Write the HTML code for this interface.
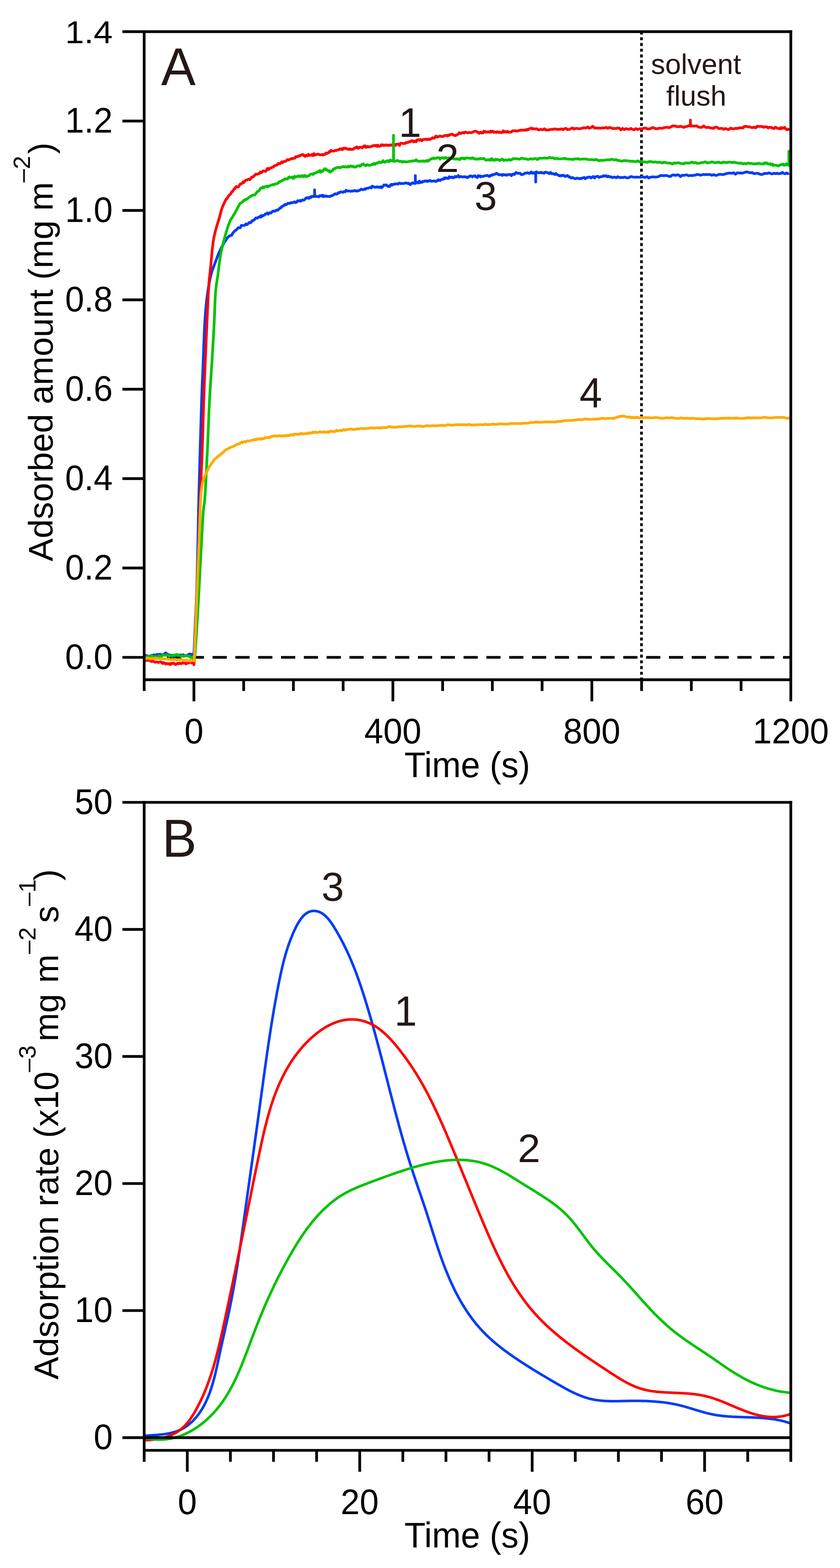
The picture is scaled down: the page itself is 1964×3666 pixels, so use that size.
<!DOCTYPE html>
<html><head><meta charset="utf-8"><title>Adsorption kinetics</title><style>html,body{margin:0;padding:0;background:#fff;}svg{display:block;}</style></head><body>
<svg width="1964" height="3666" viewBox="0 0 1964 3666">
<rect width="1964" height="3666" fill="#fff"/>
<line x1="336.95" y1="1536.90" x2="1849.00" y2="1536.90" stroke="#000" stroke-width="6.3" stroke-dasharray="33.2 20.15"/>
<line x1="1499.80" y1="73.80" x2="1499.80" y2="1589.30" stroke="#000" stroke-width="6.2" stroke-dasharray="6.9 6.465"/>
<g fill="none" stroke-width="6.3" stroke-linejoin="round" stroke-linecap="butt">
<path stroke="#003cf8" d="M337.1,1534.7 L339.2,1533.7 L341.8,1532.4 L344.9,1534.1 L346.6,1534.5 L348.3,1534.6 L350.2,1534.0 L352.1,1534.0 L354.0,1531.9 L356.1,1531.8 L358.1,1531.7 L360.2,1530.8 L362.2,1532.2 L364.3,1531.8 L366.4,1530.4 L368.5,1529.9 L370.5,1531.9 L372.5,1530.1 L374.5,1529.6 L376.4,1530.8 L378.2,1531.1 L380.0,1530.4 L381.7,1530.3 L383.5,1530.8 L385.2,1527.7 L387.0,1526.4 L388.7,1527.8 L390.4,1529.5 L392.2,1529.5 L393.9,1531.5 L395.7,1531.4 L397.4,1531.5 L399.1,1532.7 L400.8,1531.5 L402.5,1535.5 L404.2,1534.4 L405.9,1535.1 L407.5,1533.4 L409.2,1533.2 L410.8,1532.3 L414.0,1532.7 L417.0,1531.5 L420.0,1531.8 L422.9,1531.2 L425.8,1532.4 L428.7,1530.8 L431.6,1533.0 L434.4,1533.7 L437.1,1531.5 L439.7,1531.3 L442.1,1529.4 L444.3,1529.0 L446.3,1529.9 L448.1,1529.9 L450.2,1530.2 L452.0,1531.7 L453.4,1526.1 L453.9,1518.9 L454.3,1510.3 L454.6,1504.1 L454.9,1497.4 L455.2,1490.6 L455.5,1483.6 L455.8,1476.7 L456.1,1469.8 L456.4,1463.2 L456.6,1456.8 L456.9,1450.5 L457.2,1444.2 L457.6,1437.9 L457.9,1431.5 L458.2,1425.0 L458.5,1418.5 L458.8,1411.8 L459.1,1405.1 L459.3,1398.1 L459.6,1391.0 L459.9,1383.7 L460.1,1376.2 L460.4,1368.6 L460.6,1360.8 L460.8,1352.9 L461.0,1344.8 L461.2,1336.6 L461.4,1328.3 L461.6,1319.8 L461.8,1311.2 L462.0,1302.5 L462.2,1293.6 L462.4,1284.6 L462.6,1275.4 L462.8,1265.9 L463.0,1256.1 L463.2,1246.2 L463.4,1236.0 L463.6,1225.8 L463.8,1215.5 L464.0,1205.1 L464.2,1194.9 L464.4,1184.7 L464.7,1174.7 L464.9,1164.8 L465.1,1155.2 L465.3,1145.8 L465.6,1136.5 L465.8,1127.4 L466.1,1118.3 L466.3,1109.3 L466.6,1100.3 L466.8,1091.2 L467.1,1082.2 L467.3,1073.1 L467.6,1064.0 L467.9,1054.7 L468.1,1045.3 L468.4,1035.6 L468.7,1025.7 L469.0,1015.7 L469.3,1005.7 L469.6,995.6 L469.9,985.6 L470.2,975.6 L470.5,965.9 L470.8,956.4 L471.1,947.2 L471.4,938.3 L471.6,929.8 L471.9,921.7 L472.2,914.0 L472.5,906.5 L472.8,899.3 L473.1,892.2 L473.4,885.2 L473.7,878.4 L474.0,871.5 L474.3,864.6 L474.6,857.7 L474.9,850.6 L475.1,843.4 L475.4,835.9 L475.7,828.4 L476.0,820.8 L476.2,813.2 L476.5,805.7 L476.8,798.1 L477.1,790.7 L477.4,783.5 L477.7,776.4 L478.0,769.6 L478.3,763.1 L478.7,756.9 L479.2,748.2 L479.8,740.0 L480.3,732.2 L480.9,724.8 L481.6,717.6 L482.3,710.5 L483.0,703.5 L483.9,696.4 L484.8,689.4 L485.8,682.4 L486.8,675.6 L487.9,668.9 L489.1,662.4 L490.2,656.3 L491.9,648.5 L493.6,641.5 L495.4,635.3 L497.3,629.6 L499.2,624.3 L501.2,619.1 L503.4,613.5 L505.0,609.1 L506.7,604.3 L508.5,599.6 L510.4,594.9 L512.2,590.3 L514.1,586.7 L515.9,582.4 L517.8,578.6 L519.6,575.5 L521.2,573.1 L523.2,569.2 L525.3,563.5 L527.0,563.9 L528.9,560.2 L531.2,556.1 L532.9,555.1 L534.8,552.6 L536.9,551.8 L539.1,550.1 L541.5,550.5 L544.0,545.5 L546.5,542.5 L549.1,539.7 L551.7,538.0 L554.3,535.8 L556.9,532.4 L559.4,532.7 L561.9,532.6 L564.4,526.8 L567.0,527.2 L569.6,527.1 L572.3,526.8 L575.0,523.5 L577.6,525.3 L580.2,522.6 L582.7,520.0 L585.0,521.2 L587.2,519.6 L589.2,516.0 L590.9,516.3 L592.9,514.5 L594.7,514.0 L596.5,511.3 L598.1,509.6 L600.0,509.8 L601.9,510.0 L604.1,507.9 L606.4,507.5 L608.0,505.8 L609.7,507.6 L611.5,503.5 L613.3,505.6 L615.1,504.3 L617.0,503.4 L618.9,502.2 L620.9,499.9 L622.9,500.0 L625.0,497.9 L627.2,500.7 L629.5,497.8 L631.8,497.7 L634.1,497.9 L636.4,494.5 L638.7,493.3 L641.0,493.7 L643.2,494.2 L645.4,491.6 L647.4,490.9 L649.4,491.6 L651.3,489.6 L653.2,488.0 L655.1,486.1 L656.9,486.2 L658.7,482.6 L660.6,482.5 L662.5,481.0 L664.4,480.1 L666.4,477.7 L668.5,479.0 L670.7,477.4 L673.1,475.2 L675.5,475.5 L678.1,475.3 L680.7,473.5 L683.4,474.2 L686.0,473.2 L688.6,471.9 L691.2,473.7 L693.6,472.4 L695.9,469.3 L698.1,469.9 L700.1,470.0 L701.8,468.6 L703.5,470.4 L705.7,468.2 L707.7,467.4 L709.6,468.2 L711.5,467.5 L713.5,465.2 L715.7,462.7 L718.1,463.0 L719.9,462.0 L721.6,463.7 L723.5,463.4 L725.3,460.4 L727.2,461.6 L729.0,459.1 L730.8,458.9 L732.6,459.9 L734.3,459.3 L735.5,459.3 L735.5,444.0 L735.8,459.3 L735.9,458.4 L738.1,459.6 L740.1,458.8 L741.9,459.6 L743.5,459.7 L745.6,460.2 L747.7,457.5 L749.4,458.0 L751.3,458.0 L753.4,456.3 L755.6,459.9 L757.9,457.6 L760.2,459.1 L762.5,458.1 L764.8,459.4 L766.8,459.2 L768.7,459.5 L770.7,459.7 L772.7,458.5 L774.4,457.7 L776.4,457.9 L778.5,456.2 L780.4,455.0 L782.6,453.6 L784.9,452.9 L786.5,454.1 L788.2,453.5 L790.0,452.0 L791.8,450.2 L793.8,450.6 L795.8,449.0 L797.8,448.4 L800.0,449.1 L802.2,449.6 L804.5,447.6 L806.9,448.5 L809.3,444.8 L811.8,446.5 L814.4,446.6 L817.0,446.5 L819.8,447.4 L822.6,446.5 L825.6,447.0 L828.7,445.2 L831.9,446.5 L833.6,447.0 L835.3,445.6 L837.0,446.6 L838.8,445.6 L840.6,445.2 L842.5,443.9 L844.4,442.1 L846.3,442.7 L848.2,443.5 L850.2,443.3 L852.2,441.6 L854.2,442.7 L856.2,440.4 L858.2,440.1 L860.3,440.2 L862.3,439.6 L864.3,438.6 L866.4,437.6 L868.4,439.5 L870.4,435.2 L872.4,436.3 L874.4,436.8 L876.4,437.8 L878.3,437.9 L880.2,437.4 L882.2,436.6 L884.1,438.0 L886.0,437.3 L888.0,438.3 L889.9,436.6 L891.8,438.9 L893.8,437.4 L895.7,435.5 L897.6,432.4 L899.6,432.6 L901.5,433.0 L903.4,432.2 L905.4,434.5 L907.3,436.1 L909.2,435.0 L911.2,436.0 L913.1,432.2 L915.0,431.0 L917.0,432.9 L918.9,431.4 L920.8,430.4 L922.8,430.8 L924.7,430.0 L926.6,429.6 L928.6,430.1 L930.5,430.4 L932.4,428.6 L934.4,427.8 L936.3,429.5 L938.2,429.1 L940.2,428.8 L942.1,429.1 L944.0,428.8 L946.0,428.7 L947.9,427.6 L949.8,427.7 L951.8,428.5 L953.7,429.3 L955.6,428.4 L957.6,430.6 L959.5,431.7 L961.4,429.7 L963.4,428.1 L965.3,427.3 L967.2,428.7 L969.2,428.7 L971.1,428.7 L971.1,410.7 L971.4,428.7 L971.1,428.0 L973.0,425.7 L975.0,427.1 L976.9,426.3 L978.8,427.8 L980.8,423.2 L982.7,426.5 L984.6,426.5 L986.5,426.4 L988.5,424.0 L990.4,424.5 L992.3,423.8 L994.2,422.6 L996.2,423.9 L998.1,422.9 L1000.0,424.3 L1002.0,422.7 L1003.9,423.2 L1005.8,421.9 L1007.7,423.7 L1009.7,423.7 L1011.6,423.5 L1013.5,422.8 L1015.5,423.4 L1017.4,423.6 L1019.3,424.5 L1021.3,422.3 L1023.2,422.7 L1025.1,420.3 L1027.1,421.3 L1029.0,422.2 L1030.9,419.9 L1032.9,419.7 L1034.8,418.7 L1036.7,419.0 L1038.7,416.2 L1040.6,417.7 L1042.5,415.5 L1044.5,416.4 L1046.4,417.2 L1048.3,417.3 L1050.3,413.2 L1052.2,414.7 L1054.1,415.3 L1056.1,413.8 L1058.0,415.0 L1059.9,415.8 L1061.9,414.4 L1063.8,412.5 L1065.7,414.0 L1067.7,412.8 L1069.6,412.8 L1071.5,410.4 L1073.5,414.0 L1075.4,413.4 L1077.3,412.6 L1079.3,413.1 L1081.2,413.6 L1083.1,413.8 L1085.1,413.0 L1087.0,413.3 L1088.9,414.2 L1090.9,413.6 L1092.8,415.5 L1094.7,413.6 L1096.7,413.5 L1098.6,411.5 L1100.5,411.1 L1102.5,412.0 L1104.4,413.8 L1106.3,412.2 L1108.3,411.3 L1110.2,410.8 L1112.1,413.2 L1114.1,413.4 L1116.0,415.2 L1117.9,410.8 L1119.9,412.2 L1121.8,411.2 L1123.7,413.6 L1125.7,411.8 L1127.6,412.4 L1129.5,412.5 L1131.5,412.0 L1133.4,410.7 L1135.3,410.7 L1137.3,410.9 L1139.2,410.0 L1141.1,410.8 L1143.1,412.1 L1145.0,412.6 L1146.9,409.7 L1148.9,409.6 L1150.8,410.0 L1152.7,407.7 L1154.7,408.2 L1156.6,407.5 L1158.5,406.9 L1160.5,404.9 L1162.5,406.0 L1164.4,407.5 L1166.4,408.7 L1168.4,408.4 L1170.4,408.6 L1172.4,408.5 L1174.4,410.2 L1176.4,407.7 L1178.4,408.7 L1180.4,409.1 L1182.4,408.2 L1184.3,409.8 L1186.3,409.2 L1188.2,408.1 L1190.2,407.8 L1192.1,408.2 L1193.9,407.8 L1195.8,410.8 L1197.6,408.6 L1199.5,406.8 L1201.2,407.3 L1203.0,408.1 L1204.7,405.4 L1206.4,403.4 L1208.1,404.8 L1209.7,404.6 L1212.8,405.5 L1215.9,404.8 L1218.9,408.3 L1221.9,408.0 L1224.8,406.7 L1227.8,404.5 L1230.8,404.9 L1233.8,403.6 L1236.8,405.5 L1240.0,404.7 L1241.6,402.1 L1243.3,403.3 L1244.9,404.9 L1246.6,403.6 L1248.3,405.1 L1250.0,405.0 L1251.7,402.8 L1252.5,402.8 L1252.5,425.5 L1252.8,402.8 L1253.4,402.1 L1255.1,401.8 L1256.8,403.6 L1258.5,403.7 L1260.3,404.1 L1262.0,403.5 L1263.7,403.9 L1265.4,402.8 L1267.1,404.2 L1268.8,404.2 L1270.4,403.9 L1272.1,405.3 L1273.7,403.6 L1275.3,402.2 L1278.5,403.2 L1281.5,404.3 L1284.4,405.9 L1287.1,403.0 L1289.7,406.2 L1292.2,405.9 L1294.7,406.3 L1297.3,408.2 L1299.8,405.6 L1302.5,408.2 L1305.2,409.5 L1308.1,411.3 L1311.2,410.2 L1312.8,411.3 L1314.5,410.1 L1316.1,409.4 L1317.8,410.8 L1319.6,410.7 L1321.3,412.5 L1323.1,412.4 L1324.9,410.9 L1326.7,410.1 L1328.5,412.0 L1330.4,413.8 L1332.3,413.5 L1334.2,415.8 L1336.1,416.3 L1338.1,415.1 L1340.1,415.6 L1342.1,416.9 L1344.1,417.6 L1346.2,417.6 L1348.3,416.4 L1350.4,416.8 L1352.5,417.3 L1354.7,418.1 L1356.9,417.0 L1359.1,417.8 L1361.3,416.2 L1363.6,415.8 L1365.9,414.9 L1368.2,417.9 L1370.5,416.6 L1372.9,414.3 L1375.3,415.0 L1377.7,413.6 L1380.1,414.5 L1382.6,416.2 L1385.0,413.6 L1387.5,412.7 L1390.1,416.2 L1392.7,413.4 L1395.2,412.5 L1397.9,412.1 L1400.5,414.8 L1403.2,413.7 L1405.9,412.7 L1408.7,412.8 L1411.5,410.6 L1414.3,412.1 L1417.1,410.8 L1420.0,413.5 L1422.9,411.8 L1425.9,413.9 L1428.9,413.3 L1431.9,415.3 L1434.9,414.2 L1438.0,414.2 L1441.1,415.5 L1444.3,413.1 L1447.5,414.9 L1450.7,415.0 L1453.9,414.9 L1457.2,415.2 L1460.4,413.8 L1463.8,415.2 L1467.1,416.0 L1470.5,415.5 L1473.9,412.9 L1477.3,413.2 L1480.7,414.0 L1484.2,414.5 L1487.7,413.9 L1491.2,414.4 L1494.7,414.4 L1498.3,414.4 L1501.9,413.1 L1505.5,414.3 L1509.2,414.8 L1512.9,412.6 L1516.7,416.1 L1520.5,414.5 L1524.3,413.6 L1528.2,413.7 L1532.0,414.0 L1535.9,413.8 L1539.9,412.9 L1543.8,410.5 L1547.7,410.4 L1551.7,410.8 L1555.7,410.2 L1559.6,410.6 L1563.6,412.1 L1567.6,412.7 L1571.5,409.4 L1575.5,409.0 L1579.4,410.3 L1583.3,408.5 L1587.2,409.3 L1591.1,412.9 L1595.0,409.6 L1598.8,410.1 L1602.7,409.2 L1606.6,409.0 L1610.4,411.0 L1614.3,410.0 L1618.1,410.7 L1622.0,409.9 L1625.9,409.3 L1629.7,407.8 L1633.6,408.3 L1637.5,409.6 L1641.3,408.7 L1645.2,407.8 L1649.0,408.3 L1652.9,407.9 L1656.8,408.1 L1660.6,408.0 L1664.5,409.8 L1668.3,408.2 L1672.2,409.9 L1676.1,409.9 L1679.9,408.0 L1683.8,407.5 L1687.7,408.0 L1691.6,408.1 L1695.6,406.6 L1699.5,405.6 L1703.5,404.7 L1707.5,404.9 L1711.6,405.2 L1715.6,403.9 L1719.6,407.3 L1723.6,404.2 L1727.6,404.4 L1731.6,404.5 L1735.6,404.9 L1739.6,403.6 L1743.5,402.2 L1747.4,402.2 L1751.2,403.3 L1755.0,404.2 L1758.8,403.4 L1762.5,405.9 L1766.1,405.8 L1769.7,405.0 L1773.2,405.6 L1776.6,407.2 L1780.0,408.0 L1783.4,407.4 L1786.9,405.5 L1790.3,405.3 L1793.8,405.6 L1797.3,404.3 L1800.7,405.1 L1804.1,406.6 L1807.5,406.1 L1810.8,405.0 L1814.0,406.0 L1817.2,405.0 L1820.3,406.1 L1823.3,405.8 L1826.2,405.6 L1829.0,402.9 L1831.7,404.8 L1834.2,406.1 L1836.6,406.1 L1838.9,404.3 L1841.0,405.6 L1842.9,405.8 L1844.7,404.9"/>
<path stroke="#ff0000" d="M337.1,1545.7 L338.9,1543.9 L341.3,1544.0 L343.2,1542.2 L345.3,1544.0 L347.4,1543.7 L349.6,1544.8 L351.9,1544.5 L354.1,1546.7 L356.2,1544.9 L358.2,1546.3 L360.0,1546.6 L361.7,1548.1 L364.0,1548.0 L366.2,1547.6 L368.4,1548.1 L370.5,1548.8 L372.6,1548.2 L374.8,1547.7 L377.2,1548.1 L378.8,1550.0 L380.6,1551.2 L382.3,1549.0 L384.2,1550.8 L386.0,1550.5 L387.9,1552.5 L389.8,1551.2 L391.6,1551.4 L393.5,1552.1 L395.4,1551.4 L397.3,1553.7 L399.1,1551.1 L400.9,1552.6 L402.7,1550.8 L404.5,1550.3 L406.3,1550.7 L408.1,1552.5 L409.9,1553.3 L411.7,1553.6 L413.5,1551.4 L415.2,1550.8 L416.9,1552.0 L418.6,1550.8 L420.2,1550.1 L422.6,1551.8 L424.9,1550.8 L427.1,1549.4 L429.3,1550.7 L431.4,1550.7 L433.5,1550.2 L435.4,1552.3 L437.4,1550.6 L439.3,1549.8 L441.1,1550.1 L443.0,1548.2 L444.8,1547.4 L446.5,1548.8 L448.5,1550.1 L450.3,1548.3 L451.9,1548.0 L453.5,1554.1 L454.2,1545.4 L454.7,1536.6 L455.1,1528.6 L455.5,1519.0 L456.0,1508.1 L456.5,1496.2 L456.7,1489.9 L456.9,1483.5 L457.2,1476.9 L457.4,1470.2 L457.7,1463.5 L457.9,1456.8 L458.2,1450.0 L458.4,1443.3 L458.6,1436.7 L458.9,1430.1 L459.1,1423.7 L459.3,1417.4 L459.6,1411.4 L460.0,1400.0 L460.4,1389.3 L460.8,1378.8 L461.2,1368.6 L461.6,1358.5 L462.0,1348.6 L462.4,1338.8 L462.7,1329.0 L463.1,1319.3 L463.4,1309.5 L463.8,1299.8 L464.2,1289.9 L464.5,1280.0 L464.8,1270.0 L465.2,1259.9 L465.5,1249.8 L465.8,1239.6 L466.1,1229.5 L466.4,1219.4 L466.7,1209.3 L467.0,1199.3 L467.3,1189.3 L467.6,1179.4 L468.0,1169.6 L468.3,1160.0 L468.7,1150.5 L469.0,1141.2 L469.4,1131.9 L469.8,1122.8 L470.2,1113.8 L470.6,1104.8 L471.0,1095.8 L471.4,1086.7 L471.8,1077.7 L472.2,1068.6 L472.6,1059.3 L472.9,1050.0 L473.2,1040.5 L473.5,1030.7 L473.9,1020.7 L474.1,1010.7 L474.4,1000.6 L474.7,990.6 L475.0,980.6 L475.3,970.7 L475.6,961.1 L475.8,951.7 L476.1,942.7 L476.4,934.0 L476.7,925.7 L477.0,917.8 L477.3,910.2 L477.6,902.9 L477.8,895.7 L478.1,888.7 L478.4,881.8 L478.7,874.9 L479.0,868.1 L479.3,861.2 L479.6,854.2 L479.9,847.0 L480.2,839.8 L480.5,832.5 L480.8,825.3 L481.1,818.1 L481.4,810.9 L481.7,803.7 L482.0,796.5 L482.3,789.2 L482.6,782.0 L482.9,774.7 L483.3,767.4 L483.6,760.0 L483.9,752.5 L484.3,744.6 L484.7,736.6 L485.0,728.5 L485.4,720.4 L485.8,712.3 L486.1,704.4 L486.5,696.7 L486.9,689.3 L487.3,682.4 L487.6,675.9 L488.2,667.3 L488.7,660.2 L489.4,652.4 L490.1,646.0 L490.8,640.0 L491.5,633.6 L492.3,626.0 L493.0,619.2 L493.6,611.8 L494.4,604.0 L495.1,596.1 L495.9,588.2 L496.6,580.8 L497.4,574.0 L498.3,566.2 L499.3,560.1 L500.4,553.9 L501.8,547.6 L503.3,541.3 L505.2,534.2 L507.0,528.1 L508.8,522.1 L510.7,516.0 L512.6,510.0 L514.3,503.9 L515.9,497.6 L517.6,491.4 L519.5,485.5 L521.3,481.1 L523.4,476.6 L525.1,472.8 L526.9,469.1 L528.8,465.4 L530.8,464.5 L532.7,460.8 L534.6,458.0 L536.4,455.4 L538.3,454.8 L540.2,451.7 L542.1,447.9 L544.0,447.8 L545.8,444.5 L547.6,441.1 L549.3,441.2 L551.3,437.0 L553.0,436.2 L554.6,437.1 L556.5,436.8 L558.4,436.1 L560.0,433.3 L561.7,430.1 L563.4,429.9 L565.1,428.9 L566.9,428.4 L568.7,425.1 L570.4,426.5 L572.1,423.8 L573.8,421.7 L575.4,421.1 L577.1,421.0 L579.0,420.4 L580.9,418.9 L583.0,419.4 L584.6,419.9 L586.3,417.2 L588.0,414.5 L589.8,414.4 L591.6,413.9 L593.5,411.5 L595.5,410.1 L597.5,407.3 L599.6,406.9 L601.8,407.4 L604.0,406.5 L606.3,405.8 L608.5,402.3 L610.7,403.7 L612.9,401.6 L615.1,399.6 L617.3,399.9 L619.5,400.6 L621.6,400.6 L623.8,396.1 L626.0,393.7 L628.2,396.6 L630.3,394.0 L632.5,392.8 L634.7,392.0 L636.9,390.8 L639.0,390.4 L641.2,387.7 L643.4,387.2 L645.6,386.5 L647.7,385.9 L649.9,382.6 L652.1,382.2 L654.2,382.9 L656.4,381.4 L658.5,378.4 L660.7,380.4 L662.9,377.6 L665.0,377.7 L667.2,377.1 L669.5,376.1 L671.7,373.2 L673.9,374.0 L676.1,373.7 L678.3,371.9 L680.4,371.5 L682.3,370.2 L684.2,371.1 L685.8,370.4 L687.4,369.9 L689.6,369.9 L691.2,366.2 L693.0,366.6 L695.0,365.6 L697.2,365.9 L698.8,364.4 L700.5,364.4 L702.3,363.8 L704.1,362.3 L705.9,361.6 L707.7,361.2 L709.6,363.4 L711.4,363.0 L713.2,365.6 L714.9,364.0 L716.5,362.8 L718.8,364.4 L721.1,360.9 L723.3,363.2 L725.4,362.8 L727.5,363.2 L729.6,361.1 L731.7,363.9 L733.9,359.2 L736.1,362.7 L738.2,361.2 L740.4,361.4 L742.6,360.5 L744.8,360.6 L746.9,361.7 L749.1,362.1 L751.3,361.7 L753.5,361.2 L755.7,362.6 L757.9,361.2 L760.0,360.8 L762.2,357.8 L764.4,358.9 L766.6,357.3 L768.7,356.9 L770.6,353.7 L772.2,354.4 L774.2,351.4 L775.8,353.1 L777.7,353.4 L780.1,353.2 L782.0,352.9 L784.2,351.3 L786.9,351.8 L789.9,350.3 L791.5,350.3 L793.2,349.5 L795.0,347.8 L796.9,349.0 L798.8,347.7 L800.7,349.8 L802.7,346.6 L804.8,347.5 L806.8,346.0 L808.9,346.7 L811.1,348.6 L813.2,348.5 L815.3,349.4 L817.5,347.7 L819.6,349.5 L821.7,349.1 L823.8,349.5 L825.9,349.1 L827.9,346.8 L829.9,345.6 L831.9,345.9 L833.8,343.5 L835.8,344.3 L837.7,347.1 L839.6,345.1 L841.6,344.0 L843.5,344.2 L845.4,344.4 L847.4,345.8 L849.3,343.5 L851.2,341.1 L853.2,340.7 L855.1,344.6 L857.0,344.6 L859.0,342.2 L860.9,343.7 L862.8,342.7 L864.8,343.7 L866.7,342.8 L868.6,342.0 L870.6,341.6 L872.5,340.6 L874.4,340.2 L876.4,339.9 L878.3,341.0 L880.2,339.8 L882.2,342.4 L884.1,339.9 L886.0,341.9 L888.0,342.0 L889.9,341.1 L891.8,338.4 L893.8,339.9 L895.7,338.8 L897.6,340.5 L899.6,339.8 L901.5,338.8 L903.4,338.8 L905.4,340.4 L907.3,339.2 L909.2,339.5 L911.2,340.2 L913.1,338.5 L915.0,339.5 L917.0,339.3 L918.9,336.9 L920.8,339.4 L922.8,338.0 L924.7,339.9 L926.6,337.1 L928.6,337.2 L930.5,336.6 L932.4,338.4 L934.4,339.9 L936.3,335.2 L938.2,334.9 L940.2,334.9 L942.1,335.7 L944.0,335.5 L946.0,335.2 L947.9,335.4 L949.8,332.9 L951.8,333.5 L953.7,333.1 L955.6,332.2 L957.6,330.9 L959.5,331.5 L961.4,329.2 L963.4,330.0 L965.3,329.0 L967.2,331.9 L969.2,330.6 L971.1,329.5 L973.0,331.6 L975.0,327.1 L976.9,327.7 L978.8,326.5 L980.8,327.8 L982.7,326.0 L984.6,327.8 L986.5,329.1 L988.5,326.3 L990.4,326.2 L992.3,325.6 L994.2,325.9 L996.2,325.3 L998.1,326.6 L1000.0,325.3 L1002.0,326.0 L1003.9,324.9 L1005.8,326.1 L1007.7,324.4 L1009.7,323.4 L1011.6,321.9 L1013.5,323.4 L1015.5,322.9 L1017.4,320.9 L1019.3,318.0 L1021.3,320.4 L1023.2,320.3 L1025.1,319.2 L1027.1,319.2 L1029.0,318.0 L1030.9,318.8 L1032.9,319.4 L1034.8,319.0 L1036.7,318.8 L1038.7,317.1 L1040.6,316.7 L1042.5,316.9 L1044.5,316.6 L1046.4,318.2 L1048.3,315.5 L1050.3,316.4 L1052.2,315.1 L1054.1,314.0 L1056.1,314.1 L1058.0,313.9 L1059.9,315.7 L1061.9,316.5 L1063.8,316.4 L1065.7,317.0 L1067.7,315.2 L1069.6,314.7 L1071.5,313.6 L1073.5,310.2 L1075.4,311.0 L1077.3,312.2 L1079.3,310.8 L1081.2,310.0 L1083.1,309.9 L1085.1,311.1 L1087.0,309.4 L1088.9,308.9 L1090.9,309.8 L1092.8,310.3 L1094.7,310.3 L1096.7,309.5 L1098.6,309.7 L1100.5,310.2 L1102.5,310.3 L1104.4,309.0 L1106.3,308.8 L1108.3,307.5 L1110.2,307.0 L1112.1,306.6 L1114.1,307.6 L1116.0,308.7 L1117.9,309.5 L1119.9,311.6 L1121.8,309.8 L1123.7,309.1 L1125.7,310.9 L1127.6,309.4 L1129.5,310.6 L1131.5,306.7 L1133.4,307.0 L1135.3,308.6 L1137.3,309.1 L1139.2,308.5 L1141.1,308.2 L1143.1,308.1 L1145.0,309.5 L1146.9,306.6 L1148.9,308.6 L1150.8,306.8 L1152.7,306.9 L1154.7,309.3 L1156.6,308.6 L1158.5,309.1 L1160.5,309.9 L1162.5,307.8 L1164.4,308.1 L1166.4,310.0 L1168.4,308.8 L1170.4,309.4 L1172.4,310.1 L1174.4,309.6 L1176.4,305.9 L1178.4,308.8 L1180.4,307.5 L1182.4,307.8 L1184.3,308.9 L1186.3,307.0 L1188.2,308.9 L1190.2,309.1 L1192.1,308.8 L1193.9,308.8 L1195.8,308.4 L1197.6,306.3 L1199.5,305.8 L1201.2,305.8 L1203.0,306.2 L1204.7,305.5 L1206.3,306.2 L1209.3,306.7 L1212.1,305.5 L1214.7,305.2 L1217.3,304.2 L1219.8,304.3 L1222.5,304.4 L1225.4,303.8 L1228.5,304.7 L1230.1,302.9 L1231.9,304.0 L1233.7,302.3 L1235.7,303.2 L1237.8,301.2 L1240.0,300.3 L1242.3,299.3 L1244.7,301.5 L1247.3,300.7 L1249.8,301.3 L1252.5,301.5 L1255.2,301.1 L1258.0,303.3 L1260.9,303.8 L1263.8,302.3 L1266.8,303.1 L1269.8,303.3 L1272.9,301.0 L1276.1,303.9 L1279.2,303.7 L1282.5,304.1 L1285.7,303.0 L1289.0,302.3 L1292.4,302.7 L1295.7,301.4 L1299.1,301.7 L1302.5,302.6 L1305.9,302.2 L1309.4,302.6 L1312.8,301.3 L1316.3,303.4 L1319.8,300.9 L1323.4,300.2 L1327.1,303.2 L1330.8,302.5 L1334.6,301.2 L1338.4,298.9 L1342.2,301.7 L1346.1,300.3 L1350.0,300.3 L1353.9,301.2 L1357.9,300.7 L1361.9,299.4 L1365.9,298.5 L1369.9,299.3 L1373.9,296.8 L1377.9,300.0 L1381.9,298.1 L1385.8,295.2 L1389.8,299.3 L1393.8,299.1 L1397.7,299.7 L1401.6,299.4 L1405.5,299.6 L1409.4,298.9 L1413.2,299.1 L1417.1,297.6 L1421.0,300.1 L1424.8,298.0 L1428.7,298.8 L1432.6,300.7 L1436.4,300.2 L1440.3,300.6 L1444.2,299.1 L1448.0,299.9 L1451.9,303.6 L1455.8,300.3 L1459.6,302.9 L1463.5,300.7 L1467.4,301.8 L1471.2,302.2 L1475.1,300.3 L1479.0,302.6 L1482.8,303.4 L1486.7,300.7 L1490.6,302.9 L1494.4,301.4 L1498.3,301.3 L1502.2,301.0 L1506.0,299.6 L1509.9,299.3 L1513.8,301.6 L1517.6,301.5 L1521.5,300.4 L1525.4,298.1 L1529.2,299.2 L1533.1,301.0 L1537.0,300.9 L1540.8,299.7 L1544.7,299.8 L1548.6,300.2 L1552.4,298.5 L1556.3,297.8 L1560.2,297.4 L1564.0,298.7 L1567.9,297.1 L1571.8,294.6 L1575.6,294.3 L1579.5,294.7 L1583.4,296.4 L1587.2,296.2 L1591.1,295.4 L1595.0,296.3 L1598.8,297.9 L1602.7,295.9 L1606.6,295.7 L1610.4,293.9 L1614.2,293.9 L1614.2,280.8 L1614.5,293.9 L1614.3,294.8 L1618.1,294.4 L1622.0,294.8 L1625.9,294.6 L1629.7,294.4 L1633.6,297.4 L1637.5,297.7 L1641.3,297.8 L1645.2,294.2 L1649.0,297.4 L1652.9,298.1 L1656.8,297.5 L1660.6,299.0 L1664.5,299.6 L1668.3,300.1 L1672.2,297.3 L1676.1,297.5 L1679.9,300.3 L1683.8,300.7 L1687.7,299.9 L1691.7,302.4 L1695.7,300.3 L1699.7,301.9 L1703.8,303.1 L1707.9,299.5 L1712.0,301.0 L1716.2,301.2 L1720.3,300.0 L1724.5,300.4 L1728.6,298.8 L1732.7,298.6 L1736.7,299.4 L1740.7,295.3 L1744.7,295.5 L1748.6,296.4 L1752.4,296.4 L1756.2,298.1 L1759.8,298.4 L1763.4,297.3 L1766.9,299.0 L1770.2,295.1 L1773.5,295.7 L1776.6,295.6 L1779.6,295.7 L1782.5,296.0 L1785.4,297.7 L1788.2,296.2 L1790.9,296.9 L1793.6,296.7 L1796.2,299.2 L1798.7,297.6 L1801.1,297.9 L1803.5,297.7 L1805.8,299.3 L1808.1,300.3 L1810.3,300.3 L1812.4,297.4 L1814.4,298.0 L1816.4,299.0 L1818.3,300.1 L1820.2,300.7 L1822.0,300.9 L1823.7,300.8 L1825.4,298.3 L1827.0,301.0 L1830.0,298.4 L1832.7,299.7 L1835.0,297.8 L1837.0,301.0 L1838.8,302.6 L1840.8,303.5 L1842.5,302.1 L1844.2,302.3 L1845.9,301.6"/>
<path stroke="#00c300" d="M337.1,1535.9 L340.2,1536.8 L342.1,1535.9 L344.2,1536.1 L346.5,1535.2 L348.9,1535.4 L351.5,1535.4 L354.3,1531.9 L357.1,1535.3 L360.0,1535.4 L363.0,1535.5 L366.1,1535.1 L369.1,1535.4 L372.2,1533.2 L375.3,1533.9 L378.4,1534.2 L381.4,1531.4 L384.4,1531.3 L387.3,1532.1 L390.1,1531.3 L392.8,1532.0 L395.4,1534.8 L397.8,1533.3 L400.0,1532.3 L402.1,1533.5 L404.2,1532.2 L406.3,1531.2 L408.3,1532.3 L410.3,1531.3 L412.3,1530.2 L414.2,1530.3 L416.1,1532.7 L418.0,1531.7 L419.8,1532.6 L421.5,1533.4 L423.2,1534.6 L424.9,1534.4 L426.5,1533.1 L429.7,1534.8 L432.6,1532.8 L435.3,1532.9 L437.8,1532.7 L440.0,1534.3 L442.0,1534.5 L443.6,1534.2 L445.5,1537.0 L447.4,1536.7 L449.2,1536.0 L451.0,1538.9 L452.7,1538.2 L454.4,1540.1 L455.5,1534.4 L456.2,1527.0 L456.7,1520.8 L457.1,1513.4 L457.5,1507.0 L458.0,1500.0 L458.5,1492.4 L459.1,1484.1 L459.6,1475.3 L460.0,1469.0 L460.5,1462.4 L460.9,1455.5 L461.3,1448.3 L461.8,1440.7 L462.3,1432.7 L462.8,1424.3 L463.3,1415.5 L463.8,1405.9 L464.4,1395.5 L465.0,1384.5 L465.6,1373.2 L466.2,1361.5 L466.8,1349.7 L467.4,1338.0 L468.0,1326.5 L468.6,1315.3 L469.2,1304.7 L469.7,1294.7 L470.2,1285.4 L470.7,1276.5 L471.2,1267.8 L471.6,1259.3 L472.1,1251.1 L472.5,1243.2 L472.9,1235.6 L473.3,1228.3 L473.7,1221.4 L474.0,1214.8 L474.4,1208.6 L475.0,1200.0 L475.6,1193.1 L476.3,1186.8 L477.3,1180.2 L478.1,1173.8 L478.9,1165.6 L479.5,1156.8 L480.0,1149.6 L480.4,1141.8 L480.9,1133.2 L481.4,1124.1 L481.9,1114.6 L482.4,1104.8 L482.9,1094.8 L483.3,1084.6 L483.8,1074.5 L484.3,1064.5 L484.8,1054.8 L485.2,1045.3 L485.7,1035.6 L486.1,1025.7 L486.5,1015.7 L486.9,1005.7 L487.3,995.6 L487.7,985.6 L488.1,975.6 L488.5,965.9 L488.9,956.4 L489.4,947.2 L489.8,938.3 L490.2,929.8 L490.7,921.7 L491.1,914.0 L491.6,906.5 L492.0,899.3 L492.5,892.2 L493.0,885.2 L493.5,878.4 L493.9,871.5 L494.4,864.6 L494.8,857.7 L495.3,850.6 L495.7,843.4 L496.2,836.0 L496.6,828.7 L497.0,821.3 L497.5,813.9 L497.9,806.5 L498.3,799.1 L498.8,791.8 L499.2,784.5 L499.6,777.4 L500.0,770.3 L500.3,763.4 L500.7,756.6 L501.0,749.8 L501.3,742.9 L501.5,736.1 L501.8,729.4 L502.0,722.7 L502.3,716.2 L502.5,709.8 L502.8,703.7 L503.2,694.9 L503.7,686.8 L504.3,679.6 L505.0,673.2 L505.9,665.7 L506.9,659.0 L507.9,652.6 L509.0,646.1 L509.9,639.1 L510.9,631.7 L511.7,624.3 L512.6,617.0 L513.6,609.7 L514.6,602.6 L515.8,595.7 L517.1,589.2 L518.4,582.8 L519.9,576.6 L521.4,570.5 L523.0,564.4 L524.6,558.1 L526.4,551.6 L528.2,545.1 L530.1,538.5 L532.1,532.1 L534.2,526.2 L535.8,522.4 L537.5,517.9 L539.3,513.6 L541.2,510.7 L543.2,508.3 L545.1,504.4 L546.9,501.9 L548.7,499.3 L550.3,496.1 L552.2,492.5 L554.0,489.6 L555.6,485.6 L557.5,482.5 L559.3,479.5 L561.0,475.9 L562.9,474.5 L564.8,474.1 L566.7,472.2 L568.4,470.1 L570.2,468.3 L571.9,468.5 L573.9,466.1 L575.8,466.7 L578.0,465.2 L580.0,463.1 L582.2,461.6 L584.5,459.9 L586.2,458.7 L587.8,457.6 L590.1,457.2 L592.3,455.8 L594.2,455.8 L596.3,455.6 L598.2,452.8 L599.9,449.9 L601.8,447.8 L603.5,447.7 L605.5,446.0 L607.2,443.6 L609.0,440.2 L610.8,439.5 L612.7,439.3 L614.5,437.2 L616.3,439.7 L617.9,436.6 L619.6,436.8 L621.7,436.3 L623.7,435.1 L625.8,437.3 L627.9,435.1 L630.0,434.7 L632.1,433.6 L634.2,432.8 L636.2,432.3 L637.9,431.3 L639.6,432.4 L641.5,431.4 L643.5,429.9 L645.8,429.9 L647.4,429.5 L649.1,428.6 L650.9,427.6 L652.7,425.1 L654.6,425.2 L656.4,423.8 L658.3,422.5 L660.1,422.1 L661.8,420.5 L663.5,420.9 L665.9,417.9 L668.1,418.8 L670.2,417.8 L672.3,418.5 L674.4,415.4 L676.5,413.6 L678.6,415.3 L680.9,414.7 L683.3,413.7 L685.1,416.9 L686.8,417.0 L688.7,412.3 L690.5,414.2 L692.4,413.0 L694.2,413.3 L696.0,412.7 L697.8,411.0 L699.5,411.4 L701.1,413.0 L703.3,412.8 L705.3,410.9 L707.1,410.8 L708.7,413.3 L710.8,411.1 L712.9,410.1 L714.6,413.0 L716.5,412.4 L718.5,412.2 L720.6,411.5 L722.8,410.4 L725.0,407.8 L727.2,406.9 L729.5,406.8 L731.7,408.0 L733.9,405.3 L736.1,405.2 L738.5,403.9 L740.8,403.2 L743.1,401.2 L745.4,401.6 L747.6,398.8 L749.5,402.7 L751.3,399.4 L753.2,401.0 L755.0,400.2 L756.9,396.8 L758.8,394.7 L760.4,394.4 L762.3,397.4 L764.2,396.8 L766.3,399.0 L768.4,400.4 L770.0,399.0 L771.7,402.7 L773.6,401.1 L775.5,399.4 L777.5,399.2 L779.7,395.0 L781.9,394.4 L783.8,394.2 L786.1,392.0 L788.8,391.9 L791.9,391.1 L793.5,391.6 L795.3,392.3 L797.1,391.2 L799.0,390.5 L800.9,389.4 L802.9,389.9 L804.9,390.3 L807.0,389.6 L809.1,390.7 L811.2,390.8 L813.3,388.9 L815.4,390.7 L817.5,389.3 L819.7,388.0 L821.8,388.6 L823.9,389.8 L825.9,388.7 L828.0,390.5 L830.0,391.0 L831.9,390.3 L833.8,388.5 L835.8,388.7 L837.7,387.9 L839.7,387.3 L841.6,388.7 L843.6,387.5 L845.5,384.6 L847.5,384.2 L849.5,383.3 L851.4,385.9 L853.4,386.0 L855.4,387.7 L857.3,385.7 L859.3,384.8 L861.2,386.1 L863.2,386.4 L865.1,386.9 L867.0,385.6 L868.9,385.0 L870.8,384.2 L872.7,384.4 L874.6,381.9 L876.5,384.4 L878.3,382.5 L880.1,381.4 L881.9,381.6 L883.7,380.5 L885.4,379.4 L887.1,378.6 L888.8,380.0 L890.5,379.3 L892.2,380.0 L893.9,378.1 L895.5,375.6 L897.2,378.6 L898.9,379.3 L900.5,378.2 L902.2,378.8 L903.9,376.2 L905.6,376.2 L907.3,375.7 L909.0,378.1 L910.8,377.7 L912.6,374.0 L914.4,375.2 L916.2,375.9 L918.1,376.7 L920.0,376.7 L920.0,316.5 L920.3,376.7 L920.0,376.3 L922.0,377.2 L923.9,377.0 L926.0,376.0 L928.0,376.1 L930.1,375.3 L932.2,377.0 L934.4,377.5 L936.5,376.9 L938.7,377.5 L940.9,379.2 L943.1,377.5 L945.3,378.0 L947.5,377.8 L949.7,378.5 L951.9,378.6 L954.1,377.9 L956.3,377.5 L958.4,376.8 L960.6,376.9 L962.8,377.0 L964.9,376.0 L967.0,376.5 L969.1,375.9 L971.1,375.4 L973.1,373.7 L975.1,376.5 L977.1,376.5 L979.1,377.1 L981.1,377.5 L983.0,376.8 L985.0,376.6 L986.9,376.1 L988.8,377.3 L990.7,376.4 L992.6,376.5 L994.5,377.7 L996.4,376.5 L998.3,375.1 L1000.2,377.0 L1002.1,375.9 L1004.0,374.0 L1005.9,372.5 L1007.8,372.0 L1009.7,370.7 L1011.6,370.4 L1013.6,369.4 L1015.5,371.1 L1017.4,369.9 L1019.3,369.9 L1021.3,370.0 L1023.2,368.6 L1025.1,368.9 L1027.1,369.3 L1029.0,372.0 L1030.9,369.9 L1032.9,368.9 L1034.8,368.6 L1036.7,369.7 L1038.7,370.5 L1040.6,368.3 L1042.5,368.7 L1044.5,370.1 L1046.4,369.9 L1048.3,370.2 L1050.3,368.9 L1052.2,372.0 L1054.1,370.8 L1056.1,369.4 L1058.0,370.2 L1059.9,371.0 L1061.9,371.8 L1063.8,371.3 L1065.7,372.1 L1067.7,371.1 L1069.6,372.2 L1071.5,372.2 L1073.5,371.7 L1075.4,373.2 L1077.3,370.0 L1079.3,370.2 L1081.2,369.2 L1083.1,371.2 L1085.1,369.9 L1087.0,371.7 L1088.9,369.3 L1090.9,369.3 L1092.8,369.3 L1094.7,369.8 L1096.7,369.9 L1098.6,369.6 L1100.5,370.9 L1102.5,369.9 L1104.4,368.8 L1106.3,370.7 L1108.3,370.2 L1110.2,372.0 L1112.1,371.9 L1114.0,371.4 L1115.9,371.9 L1117.7,372.5 L1119.6,371.2 L1121.4,371.4 L1123.2,370.3 L1125.0,371.2 L1126.9,371.2 L1128.7,370.9 L1130.5,370.2 L1132.3,370.8 L1134.2,373.3 L1136.1,374.0 L1138.0,374.5 L1139.9,373.3 L1141.8,373.9 L1143.8,373.2 L1145.8,375.0 L1147.9,371.7 L1150.0,370.7 L1152.1,374.7 L1154.3,373.3 L1156.6,375.0 L1158.9,372.3 L1161.2,373.6 L1163.5,372.7 L1165.8,373.7 L1168.2,375.2 L1170.6,374.0 L1173.0,371.9 L1175.4,372.4 L1177.8,375.0 L1180.3,374.4 L1182.8,373.8 L1185.4,374.7 L1188.0,374.0 L1190.6,372.6 L1193.3,374.6 L1196.1,373.8 L1198.8,370.9 L1201.7,371.1 L1204.6,371.2 L1207.5,371.0 L1210.6,371.6 L1213.6,372.3 L1216.8,371.1 L1220.0,369.9 L1223.3,370.7 L1226.7,371.4 L1230.2,371.3 L1233.8,372.8 L1237.4,372.4 L1241.1,370.9 L1244.9,372.4 L1248.8,371.1 L1252.7,370.5 L1256.6,373.1 L1260.6,370.0 L1264.6,370.1 L1268.6,369.8 L1272.7,369.4 L1276.7,369.9 L1280.8,369.9 L1284.9,367.7 L1288.9,369.5 L1293.0,368.8 L1297.0,371.2 L1301.0,369.9 L1305.0,371.2 L1308.9,371.6 L1312.8,371.1 L1316.7,370.8 L1320.5,370.0 L1324.4,371.7 L1328.3,371.8 L1332.1,372.2 L1336.0,372.3 L1339.8,372.8 L1343.7,371.3 L1347.6,372.0 L1351.4,370.9 L1355.3,372.6 L1359.2,372.2 L1363.0,371.8 L1366.9,371.6 L1370.7,372.2 L1374.6,372.7 L1378.5,373.5 L1382.3,373.0 L1386.2,373.3 L1390.0,374.0 L1393.9,372.6 L1397.8,374.7 L1401.6,375.8 L1405.5,374.6 L1409.4,375.2 L1413.2,374.6 L1417.1,373.9 L1421.0,373.5 L1424.8,374.0 L1428.7,372.4 L1432.6,372.6 L1436.4,374.2 L1440.3,372.9 L1444.2,375.2 L1448.0,375.1 L1451.9,376.9 L1455.8,376.4 L1459.6,375.2 L1463.5,376.0 L1467.4,375.7 L1471.2,376.8 L1475.1,376.8 L1479.0,376.9 L1482.8,377.7 L1486.7,378.0 L1490.6,375.9 L1494.4,378.3 L1498.3,378.0 L1502.2,377.9 L1506.0,378.8 L1509.9,378.7 L1513.8,379.5 L1517.6,377.8 L1521.5,377.7 L1525.4,378.7 L1529.2,379.2 L1533.1,378.3 L1537.0,379.9 L1540.8,379.0 L1544.7,379.7 L1548.6,381.2 L1552.4,379.1 L1556.3,380.2 L1560.2,380.8 L1564.0,381.4 L1567.9,381.5 L1571.8,383.6 L1575.6,380.8 L1579.5,381.6 L1583.4,380.9 L1587.2,380.6 L1591.1,382.1 L1595.0,382.4 L1598.8,383.0 L1602.7,380.8 L1606.6,381.1 L1610.4,381.4 L1614.3,380.6 L1618.1,378.8 L1622.0,380.9 L1625.9,379.8 L1629.7,381.6 L1633.6,381.5 L1637.5,381.1 L1641.3,379.9 L1645.2,379.8 L1649.0,378.3 L1652.9,380.7 L1656.8,380.8 L1660.6,379.6 L1664.5,378.4 L1668.3,379.6 L1672.2,380.5 L1676.1,379.9 L1679.9,379.0 L1683.8,380.7 L1687.7,380.7 L1691.7,378.8 L1695.7,380.2 L1699.8,380.0 L1703.9,379.0 L1708.1,379.3 L1712.3,380.2 L1716.4,379.0 L1720.6,380.4 L1724.8,380.9 L1729.0,382.0 L1733.1,380.9 L1737.2,383.4 L1741.2,382.1 L1745.2,383.4 L1749.1,381.1 L1752.9,382.3 L1756.7,382.2 L1760.3,382.8 L1763.8,383.6 L1767.2,382.6 L1770.5,382.9 L1773.6,381.6 L1776.6,382.6 L1779.4,383.0 L1782.2,383.2 L1784.8,383.8 L1787.3,380.7 L1789.8,382.4 L1792.1,380.6 L1794.4,382.7 L1796.5,383.5 L1798.6,383.5 L1800.6,382.6 L1802.6,385.4 L1804.4,384.9 L1806.2,383.4 L1808.0,387.0 L1809.7,385.8 L1811.3,386.0 L1814.4,386.5 L1817.4,386.8 L1820.3,388.0 L1823.0,386.4 L1825.6,384.9 L1827.8,384.2 L1829.9,385.3 L1831.7,383.9 L1833.3,386.5 L1835.5,384.9 L1837.3,385.6 L1839.0,382.8 L1841.0,385.2 L1842.8,384.8 L1844.5,384.8 L1844.5,353.6 L1844.8,384.8 L1844.5,387.2 L1846.2,385.2"/>
<path stroke="#ffaa00" d="M337.1,1538.8 L339.9,1538.7 L341.6,1539.1 L343.4,1538.8 L345.4,1539.0 L347.6,1539.1 L349.8,1539.6 L352.2,1540.9 L354.7,1538.9 L357.3,1539.6 L359.9,1540.7 L362.6,1538.7 L365.4,1539.9 L368.2,1539.3 L371.0,1539.8 L373.8,1539.8 L376.6,1540.0 L379.4,1540.2 L382.2,1540.3 L384.9,1540.5 L387.6,1541.0 L390.2,1540.5 L392.8,1541.5 L395.2,1541.1 L397.6,1542.0 L400.1,1542.5 L402.7,1541.7 L405.3,1541.9 L408.0,1542.1 L410.7,1541.5 L413.4,1542.6 L416.2,1542.5 L418.9,1542.0 L421.6,1542.7 L424.3,1541.9 L426.9,1543.4 L429.5,1543.8 L432.1,1544.0 L434.6,1543.5 L436.9,1542.9 L439.2,1544.7 L441.4,1545.0 L443.5,1545.4 L445.4,1543.5 L447.2,1544.6 L448.9,1544.2 L451.7,1544.6 L453.8,1543.8 L455.7,1545.0 L454.0,1544.7 L454.1,1537.9 L454.6,1530.1 L454.9,1523.8 L455.2,1516.7 L455.5,1509.1 L455.9,1501.0 L456.2,1492.6 L456.6,1483.9 L457.0,1475.2 L457.3,1466.6 L457.7,1458.1 L458.0,1450.0 L458.3,1442.0 L458.7,1433.9 L459.0,1425.7 L459.3,1417.4 L459.7,1409.0 L460.0,1400.6 L460.3,1392.2 L460.7,1383.7 L461.0,1375.2 L461.3,1366.8 L461.7,1358.4 L462.0,1350.0 L462.3,1341.6 L462.7,1333.1 L463.0,1324.5 L463.4,1315.9 L463.7,1307.3 L464.1,1298.8 L464.4,1290.2 L464.7,1281.9 L465.1,1273.6 L465.4,1265.5 L465.7,1257.6 L466.0,1250.0 L466.3,1242.5 L466.6,1235.0 L466.8,1227.5 L467.1,1220.1 L467.3,1212.8 L467.6,1205.8 L467.8,1198.9 L468.0,1192.4 L468.3,1186.2 L468.6,1177.6 L469.0,1170.0 L469.4,1163.6 L469.8,1156.7 L470.4,1150.1 L471.2,1143.9 L472.1,1137.0 L473.2,1130.8 L474.6,1124.5 L476.4,1118.7 L478.1,1114.7 L479.9,1111.4 L481.6,1107.6 L483.4,1104.1 L485.2,1099.7 L486.8,1096.5 L488.5,1092.8 L490.4,1089.7 L492.2,1087.5 L494.1,1083.9 L495.8,1082.4 L497.6,1079.6 L499.7,1076.7 L501.5,1073.9 L503.6,1072.3 L505.9,1071.0 L508.3,1068.0 L509.9,1066.6 L511.5,1066.6 L513.1,1064.7 L515.5,1062.5 L517.7,1060.0 L519.7,1060.2 L521.4,1057.4 L523.5,1056.4 L525.6,1053.1 L527.2,1052.8 L529.1,1051.0 L531.2,1050.0 L532.9,1049.7 L534.7,1048.3 L536.7,1047.5 L538.8,1046.3 L541.0,1045.2 L543.4,1044.6 L545.7,1043.7 L548.2,1042.1 L550.6,1040.7 L553.1,1039.8 L555.6,1038.3 L558.0,1038.4 L560.4,1036.9 L562.7,1035.2 L565.0,1033.6 L567.2,1035.4 L569.4,1033.1 L571.6,1032.3 L573.9,1033.6 L576.2,1031.9 L578.6,1030.7 L581.1,1031.1 L583.7,1030.7 L586.5,1030.0 L589.4,1029.5 L592.5,1028.1 L594.1,1028.2 L595.8,1028.7 L597.5,1026.7 L599.3,1027.8 L601.0,1026.0 L602.8,1027.2 L604.7,1026.7 L606.5,1025.9 L608.4,1026.2 L610.2,1027.0 L612.1,1024.9 L614.0,1025.6 L616.0,1026.0 L617.9,1025.3 L619.8,1023.1 L621.7,1023.5 L623.6,1023.0 L625.5,1022.8 L627.4,1022.6 L629.2,1023.5 L631.1,1023.4 L632.9,1020.8 L634.7,1019.8 L636.5,1020.4 L638.3,1020.0 L640.1,1019.3 L642.0,1019.6 L643.8,1019.0 L645.6,1019.7 L647.4,1019.2 L649.2,1019.5 L651.0,1018.5 L652.8,1018.9 L654.6,1019.1 L656.5,1019.6 L658.3,1019.5 L660.1,1018.4 L661.9,1019.8 L663.7,1018.5 L665.5,1019.4 L667.3,1018.6 L669.1,1018.2 L671.0,1019.0 L672.8,1017.5 L674.6,1018.7 L676.4,1017.8 L678.2,1016.4 L680.0,1017.0 L681.7,1016.4 L683.5,1016.1 L685.2,1017.6 L686.9,1015.6 L688.7,1015.0 L690.4,1015.6 L692.1,1015.1 L693.8,1015.0 L695.5,1015.4 L697.2,1016.1 L699.0,1015.1 L700.8,1014.5 L702.5,1014.8 L704.3,1013.3 L706.2,1014.0 L708.0,1014.5 L709.9,1014.4 L711.8,1013.7 L713.8,1014.1 L715.8,1013.7 L717.8,1013.5 L719.9,1013.9 L722.1,1011.6 L724.3,1013.0 L726.6,1012.1 L728.9,1012.2 L731.3,1010.0 L733.7,1011.8 L736.2,1010.0 L738.7,1010.7 L741.2,1011.1 L743.8,1010.8 L746.4,1010.2 L748.9,1009.3 L751.5,1010.6 L754.1,1010.3 L756.6,1009.7 L759.1,1010.6 L761.6,1010.1 L764.1,1010.8 L766.5,1009.9 L768.9,1010.9 L771.2,1007.9 L773.5,1008.6 L775.7,1008.7 L777.8,1008.1 L779.8,1009.0 L781.5,1009.3 L784.5,1008.4 L786.9,1005.8 L789.0,1007.5 L791.0,1007.5 L793.1,1006.8 L795.5,1006.6 L798.5,1006.1 L800.2,1006.8 L802.2,1004.4 L804.4,1004.6 L806.9,1006.0 L809.6,1004.4 L812.7,1004.4 L816.2,1003.9 L820.0,1002.9 L824.2,1003.9 L828.8,1004.1 L833.6,1002.7 L838.8,1003.0 L844.3,1001.4 L850.0,1002.2 L856.0,1002.2 L862.2,1001.1 L868.6,1000.4 L875.1,1001.0 L881.8,1000.0 L888.6,1000.8 L895.5,999.3 L902.4,1000.2 L909.4,997.4 L916.4,998.5 L923.5,999.0 L930.5,997.9 L937.4,997.8 L944.3,997.4 L951.1,996.9 L957.8,995.8 L964.3,996.6 L970.7,996.9 L977.0,995.8 L983.3,996.3 L989.5,997.2 L995.8,995.5 L1002.1,995.7 L1008.4,995.6 L1014.7,995.3 L1020.9,995.6 L1027.2,995.0 L1033.5,994.4 L1039.8,995.1 L1046.1,993.2 L1052.3,993.6 L1058.6,994.2 L1064.9,993.1 L1071.2,993.0 L1077.4,993.2 L1083.7,992.8 L1090.0,993.4 L1096.3,992.4 L1102.6,993.9 L1108.8,993.3 L1115.1,993.3 L1121.4,992.7 L1127.7,993.1 L1134.0,992.2 L1140.2,992.6 L1146.5,992.5 L1152.8,991.6 L1159.1,992.1 L1165.4,991.6 L1171.6,990.6 L1177.9,991.7 L1184.2,991.6 L1190.5,990.8 L1196.7,989.8 L1203.0,990.3 L1209.3,990.1 L1215.6,990.3 L1221.9,990.0 L1228.1,989.2 L1234.4,989.6 L1240.7,987.7 L1247.0,987.6 L1253.3,987.0 L1259.5,986.8 L1265.8,987.3 L1272.1,986.7 L1278.5,986.6 L1285.0,986.3 L1291.8,986.6 L1298.6,986.6 L1305.6,984.9 L1312.6,985.1 L1319.7,983.4 L1326.8,983.4 L1333.9,982.8 L1341.0,982.4 L1348.1,981.4 L1355.0,981.0 L1361.9,981.0 L1368.6,979.3 L1375.2,980.4 L1381.6,980.4 L1387.7,980.0 L1393.7,980.0 L1399.4,979.6 L1404.8,978.2 L1409.8,977.9 L1414.6,979.2 L1418.9,978.2 L1422.9,977.8 L1426.5,978.2 L1429.7,978.3 L1432.5,977.6 L1435.1,979.0 L1437.3,977.2 L1439.2,976.6 L1440.9,976.2 L1443.6,975.2 L1445.6,975.0 L1447.5,974.6 L1449.2,973.0 L1451.3,973.5 L1453.0,973.9 L1454.8,973.4 L1456.5,972.7 L1458.6,973.1 L1460.4,973.5 L1462.2,973.8 L1464.0,974.3 L1466.0,975.0 L1468.2,976.0 L1470.0,974.7 L1472.2,975.7 L1474.0,974.9 L1475.7,976.3 L1478.2,976.9 L1480.7,975.6 L1482.3,976.1 L1484.1,976.8 L1486.3,976.2 L1488.7,975.3 L1491.5,976.8 L1494.7,977.1 L1498.2,975.9 L1502.1,977.0 L1506.4,976.3 L1511.0,976.5 L1515.9,976.2 L1521.1,977.1 L1526.6,976.8 L1532.3,976.2 L1538.3,976.5 L1544.5,977.7 L1550.8,978.2 L1557.4,976.6 L1564.1,977.4 L1570.9,976.3 L1577.8,977.8 L1584.9,978.7 L1592.0,977.1 L1599.1,978.0 L1606.3,978.0 L1613.5,978.1 L1620.7,977.9 L1627.9,979.1 L1635.0,978.7 L1642.0,979.8 L1649.0,979.0 L1656.1,978.4 L1663.5,978.9 L1671.3,979.2 L1679.3,978.9 L1687.5,977.9 L1695.9,978.0 L1704.5,977.7 L1713.1,978.0 L1721.8,977.5 L1730.5,978.1 L1739.2,978.3 L1747.8,976.7 L1756.3,977.0 L1764.6,976.8 L1772.7,977.2 L1780.6,976.6 L1788.2,975.5 L1795.5,976.8 L1802.4,977.2 L1808.8,976.5 L1814.9,975.9 L1820.4,976.1 L1825.4,975.7 L1829.8,976.2 L1833.6,975.9 L1837.0,977.5 L1839.8,978.1 L1842.2,977.3 L1844.2,977.6 L1845.8,977.8 L1848.0,977.7 L1846.1,981.2"/>
</g>
<line x1="286.20" y1="74.05" x2="1852.20" y2="74.05" stroke="#000" stroke-width="6.4" />
<line x1="337.10" y1="70.85" x2="337.10" y2="1615.50" stroke="#000" stroke-width="6.4" />
<line x1="1849.00" y1="70.85" x2="1849.00" y2="1639.70" stroke="#000" stroke-width="6.4" />
<line x1="337.10" y1="1589.30" x2="1849.00" y2="1589.30" stroke="#000" stroke-width="6.4" />
<line x1="286.20" y1="283.03" x2="337.10" y2="283.03" stroke="#000" stroke-width="6.4" />
<line x1="286.20" y1="492.01" x2="337.10" y2="492.01" stroke="#000" stroke-width="6.4" />
<line x1="286.20" y1="700.99" x2="337.10" y2="700.99" stroke="#000" stroke-width="6.4" />
<line x1="286.20" y1="909.97" x2="337.10" y2="909.97" stroke="#000" stroke-width="6.4" />
<line x1="286.20" y1="1118.95" x2="337.10" y2="1118.95" stroke="#000" stroke-width="6.4" />
<line x1="286.20" y1="1327.93" x2="337.10" y2="1327.93" stroke="#000" stroke-width="6.4" />
<line x1="286.20" y1="1536.91" x2="337.10" y2="1536.91" stroke="#000" stroke-width="6.4" />
<line x1="453.40" y1="1589.30" x2="453.40" y2="1639.70" stroke="#000" stroke-width="6.4" />
<line x1="569.70" y1="1589.30" x2="569.70" y2="1615.50" stroke="#000" stroke-width="6.4" />
<line x1="686.00" y1="1589.30" x2="686.00" y2="1615.50" stroke="#000" stroke-width="6.4" />
<line x1="802.30" y1="1589.30" x2="802.30" y2="1615.50" stroke="#000" stroke-width="6.4" />
<line x1="918.60" y1="1589.30" x2="918.60" y2="1639.70" stroke="#000" stroke-width="6.4" />
<line x1="1034.90" y1="1589.30" x2="1034.90" y2="1615.50" stroke="#000" stroke-width="6.4" />
<line x1="1151.20" y1="1589.30" x2="1151.20" y2="1615.50" stroke="#000" stroke-width="6.4" />
<line x1="1267.50" y1="1589.30" x2="1267.50" y2="1615.50" stroke="#000" stroke-width="6.4" />
<line x1="1383.80" y1="1589.30" x2="1383.80" y2="1639.70" stroke="#000" stroke-width="6.4" />
<line x1="1500.10" y1="1589.30" x2="1500.10" y2="1615.50" stroke="#000" stroke-width="6.4" />
<line x1="1616.40" y1="1589.30" x2="1616.40" y2="1615.50" stroke="#000" stroke-width="6.4" />
<line x1="1732.70" y1="1589.30" x2="1732.70" y2="1615.50" stroke="#000" stroke-width="6.4" />
<g fill="none" stroke-width="6" stroke-linejoin="round">
<path stroke="#003cf8" d="M337.1,3356.9 L339.1,3356.8 L341.1,3356.6 L343.1,3356.5 L345.1,3356.4 L347.1,3356.2 L349.0,3356.1 L351.0,3356.0 L353.0,3355.8 L355.0,3355.7 L357.0,3355.6 L359.0,3355.5 L361.0,3355.3 L363.0,3355.2 L365.0,3355.0 L367.0,3354.9 L369.0,3354.7 L371.0,3354.5 L373.0,3354.3 L375.0,3354.1 L377.0,3353.9 L379.0,3353.7 L380.9,3353.5 L382.9,3353.2 L384.9,3352.9 L386.9,3352.6 L388.9,3352.3 L390.8,3352.0 L392.8,3351.6 L394.8,3351.3 L396.7,3350.9 L398.7,3350.5 L400.6,3350.0 L402.6,3349.5 L404.5,3349.0 L406.4,3348.5 L408.4,3347.9 L410.3,3347.3 L412.2,3346.7 L414.1,3346.1 L415.9,3345.3 L417.8,3344.6 L419.6,3343.8 L421.4,3343.0 L423.3,3342.1 L425.0,3341.2 L426.8,3340.3 L428.6,3339.3 L430.3,3338.3 L432.0,3337.3 L433.7,3336.2 L435.3,3335.1 L437.0,3333.9 L438.6,3332.8 L440.2,3331.6 L441.8,3330.3 L443.3,3329.0 L444.8,3327.7 L446.3,3326.4 L447.8,3325.1 L449.3,3323.7 L450.7,3322.3 L452.1,3320.9 L453.5,3319.4 L454.8,3318.0 L456.2,3316.5 L457.5,3315.0 L458.8,3313.5 L460.1,3311.9 L461.3,3310.3 L462.5,3308.8 L463.7,3307.2 L464.9,3305.6 L466.1,3303.9 L467.2,3302.3 L468.4,3300.6 L469.5,3299.0 L470.5,3297.3 L471.6,3295.6 L472.6,3293.9 L473.7,3292.2 L474.7,3290.4 L475.7,3288.7 L476.6,3286.9 L477.6,3285.2 L478.5,3283.4 L479.4,3281.6 L480.3,3279.8 L481.2,3278.0 L482.0,3276.2 L482.9,3274.4 L483.7,3272.6 L484.5,3270.8 L485.3,3268.9 L486.1,3267.1 L486.9,3265.2 L487.6,3263.4 L488.3,3261.5 L489.1,3259.7 L489.8,3257.8 L490.5,3255.9 L491.1,3254.0 L491.8,3252.1 L492.5,3250.3 L493.1,3248.4 L493.7,3246.5 L494.3,3244.6 L494.9,3242.7 L495.5,3240.7 L496.1,3238.8 L496.7,3236.9 L497.3,3235.0 L497.8,3233.1 L498.4,3231.1 L498.9,3229.2 L499.4,3227.3 L499.9,3225.4 L500.5,3223.4 L501.0,3221.5 L501.5,3219.6 L501.9,3217.6 L502.4,3215.7 L502.9,3213.7 L503.4,3211.8 L503.8,3209.8 L504.3,3207.9 L504.7,3205.9 L505.2,3204.0 L505.6,3202.0 L506.1,3200.1 L506.5,3198.1 L507.0,3196.2 L507.4,3194.2 L507.8,3192.3 L508.2,3190.3 L508.7,3188.4 L509.1,3186.4 L509.5,3184.5 L509.9,3182.5 L510.3,3180.5 L510.8,3178.6 L511.2,3176.6 L511.6,3174.7 L512.0,3172.7 L512.4,3170.8 L512.8,3168.8 L513.3,3166.9 L513.7,3164.9 L514.1,3162.9 L514.5,3161.0 L515.0,3159.0 L515.4,3157.1 L515.8,3155.1 L516.2,3153.2 L516.7,3151.2 L517.1,3149.3 L517.5,3147.3 L518.0,3145.4 L518.4,3143.4 L518.8,3141.5 L519.3,3139.5 L519.7,3137.6 L520.1,3135.6 L520.6,3133.6 L521.0,3131.7 L521.5,3129.7 L521.9,3127.8 L522.3,3125.8 L522.8,3123.9 L523.2,3121.9 L523.7,3120.0 L524.1,3118.0 L524.5,3116.1 L525.0,3114.1 L525.4,3112.2 L525.9,3110.2 L526.3,3108.3 L526.7,3106.3 L527.2,3104.4 L527.6,3102.4 L528.0,3100.5 L528.5,3098.5 L528.9,3096.6 L529.3,3094.6 L529.8,3092.7 L530.2,3090.7 L530.6,3088.8 L531.1,3086.8 L531.5,3084.8 L531.9,3082.9 L532.4,3080.9 L532.8,3079.0 L533.2,3077.0 L533.6,3075.1 L534.0,3073.1 L534.5,3071.2 L534.9,3069.2 L535.3,3067.3 L535.7,3065.3 L536.1,3063.3 L536.5,3061.4 L536.9,3059.4 L537.3,3057.5 L537.7,3055.5 L538.2,3053.5 L538.5,3051.6 L538.9,3049.6 L539.3,3047.7 L539.7,3045.7 L540.1,3043.7 L540.5,3041.8 L540.9,3039.8 L541.3,3037.8 L541.7,3035.9 L542.0,3033.9 L542.4,3032.0 L542.8,3030.0 L543.1,3028.0 L543.5,3026.1 L543.9,3024.1 L544.2,3022.1 L544.6,3020.2 L545.0,3018.2 L545.3,3016.2 L545.7,3014.3 L546.0,3012.3 L546.4,3010.3 L546.7,3008.3 L547.1,3006.4 L547.4,3004.4 L547.8,3002.4 L548.1,3000.5 L548.5,2998.5 L548.8,2996.5 L549.1,2994.6 L549.5,2992.6 L549.8,2990.6 L550.1,2988.6 L550.5,2986.7 L550.8,2984.7 L551.1,2982.7 L551.4,2980.7 L551.8,2978.8 L552.1,2976.8 L552.4,2974.8 L552.7,2972.8 L553.0,2970.9 L553.4,2968.9 L553.7,2966.9 L554.0,2964.9 L554.3,2963.0 L554.6,2961.0 L554.9,2959.0 L555.2,2957.0 L555.5,2955.1 L555.8,2953.1 L556.1,2951.1 L556.4,2949.1 L556.7,2947.2 L557.0,2945.2 L557.3,2943.2 L557.6,2941.2 L557.9,2939.2 L558.2,2937.3 L558.5,2935.3 L558.8,2933.3 L559.1,2931.3 L559.4,2929.4 L559.7,2927.4 L560.0,2925.4 L560.3,2923.4 L560.6,2921.4 L560.9,2919.5 L561.1,2917.5 L561.4,2915.5 L561.7,2913.5 L562.0,2911.5 L562.3,2909.6 L562.6,2907.6 L562.9,2905.6 L563.1,2903.6 L563.4,2901.6 L563.7,2899.7 L564.0,2897.7 L564.3,2895.7 L564.5,2893.7 L564.8,2891.7 L565.1,2889.8 L565.4,2887.8 L565.7,2885.8 L565.9,2883.8 L566.2,2881.8 L566.5,2879.8 L566.8,2877.9 L567.0,2875.9 L567.3,2873.9 L567.6,2871.9 L567.9,2869.9 L568.1,2868.0 L568.4,2866.0 L568.7,2864.0 L569.0,2862.0 L569.2,2860.0 L569.5,2858.1 L569.8,2856.1 L570.1,2854.1 L570.3,2852.1 L570.6,2850.1 L570.9,2848.1 L571.2,2846.2 L571.4,2844.2 L571.7,2842.2 L572.0,2840.2 L572.3,2838.2 L572.5,2836.3 L572.8,2834.3 L573.1,2832.3 L573.4,2830.3 L573.6,2828.3 L573.9,2826.4 L574.2,2824.4 L574.5,2822.4 L574.7,2820.4 L575.0,2818.4 L575.3,2816.4 L575.6,2814.5 L575.8,2812.5 L576.1,2810.5 L576.4,2808.5 L576.7,2806.5 L577.0,2804.6 L577.2,2802.6 L577.5,2800.6 L577.8,2798.6 L578.1,2796.6 L578.3,2794.7 L578.6,2792.7 L578.9,2790.7 L579.2,2788.7 L579.4,2786.7 L579.7,2784.8 L580.0,2782.8 L580.3,2780.8 L580.6,2778.8 L580.8,2776.8 L581.1,2774.8 L581.4,2772.9 L581.7,2770.9 L582.0,2768.9 L582.2,2766.9 L582.5,2764.9 L582.8,2763.0 L583.1,2761.0 L583.3,2759.0 L583.6,2757.0 L583.9,2755.0 L584.2,2753.1 L584.5,2751.1 L584.7,2749.1 L585.0,2747.1 L585.3,2745.1 L585.6,2743.2 L585.9,2741.2 L586.1,2739.2 L586.4,2737.2 L586.7,2735.2 L587.0,2733.3 L587.2,2731.3 L587.5,2729.3 L587.8,2727.3 L588.1,2725.3 L588.4,2723.3 L588.6,2721.4 L588.9,2719.4 L589.2,2717.4 L589.5,2715.4 L589.8,2713.4 L590.0,2711.5 L590.3,2709.5 L590.6,2707.5 L590.9,2705.5 L591.1,2703.5 L591.4,2701.6 L591.7,2699.6 L592.0,2697.6 L592.3,2695.6 L592.5,2693.6 L592.8,2691.7 L593.1,2689.7 L593.4,2687.7 L593.6,2685.7 L593.9,2683.7 L594.2,2681.8 L594.5,2679.8 L594.8,2677.8 L595.0,2675.8 L595.3,2673.8 L595.6,2671.8 L595.9,2669.9 L596.1,2667.9 L596.4,2665.9 L596.7,2663.9 L597.0,2661.9 L597.3,2660.0 L597.5,2658.0 L597.8,2656.0 L598.1,2654.0 L598.4,2652.0 L598.6,2650.1 L598.9,2648.1 L599.2,2646.1 L599.5,2644.1 L599.7,2642.1 L600.0,2640.1 L600.3,2638.2 L600.6,2636.2 L600.8,2634.2 L601.1,2632.2 L601.4,2630.2 L601.7,2628.3 L601.9,2626.3 L602.2,2624.3 L602.5,2622.3 L602.8,2620.3 L603.0,2618.4 L603.3,2616.4 L603.6,2614.4 L603.9,2612.4 L604.1,2610.4 L604.4,2608.4 L604.7,2606.5 L604.9,2604.5 L605.2,2602.5 L605.5,2600.5 L605.8,2598.5 L606.0,2596.6 L606.3,2594.6 L606.6,2592.6 L606.8,2590.6 L607.1,2588.6 L607.4,2586.6 L607.7,2584.7 L607.9,2582.7 L608.2,2580.7 L608.5,2578.7 L608.7,2576.7 L609.0,2574.8 L609.3,2572.8 L609.5,2570.8 L609.8,2568.8 L610.1,2566.8 L610.4,2564.8 L610.6,2562.9 L610.9,2560.9 L611.2,2558.9 L611.4,2556.9 L611.7,2554.9 L612.0,2553.0 L612.2,2551.0 L612.5,2549.0 L612.8,2547.0 L613.0,2545.0 L613.3,2543.0 L613.6,2541.1 L613.9,2539.1 L614.1,2537.1 L614.4,2535.1 L614.7,2533.1 L614.9,2531.2 L615.2,2529.2 L615.5,2527.2 L615.7,2525.2 L616.0,2523.2 L616.3,2521.2 L616.6,2519.3 L616.8,2517.3 L617.1,2515.3 L617.4,2513.3 L617.7,2511.3 L617.9,2509.4 L618.2,2507.4 L618.5,2505.4 L618.7,2503.4 L619.0,2501.4 L619.3,2499.4 L619.6,2497.5 L619.8,2495.5 L620.1,2493.5 L620.4,2491.5 L620.7,2489.5 L621.0,2487.6 L621.2,2485.6 L621.5,2483.6 L621.8,2481.6 L622.1,2479.6 L622.4,2477.7 L622.6,2475.7 L622.9,2473.7 L623.2,2471.7 L623.5,2469.7 L623.8,2467.8 L624.0,2465.8 L624.3,2463.8 L624.6,2461.8 L624.9,2459.8 L625.2,2457.9 L625.5,2455.9 L625.8,2453.9 L626.1,2451.9 L626.3,2449.9 L626.6,2448.0 L626.9,2446.0 L627.2,2444.0 L627.5,2442.0 L627.8,2440.0 L628.1,2438.1 L628.4,2436.1 L628.7,2434.1 L629.0,2432.1 L629.3,2430.2 L629.6,2428.2 L629.9,2426.2 L630.2,2424.2 L630.5,2422.2 L630.8,2420.3 L631.1,2418.3 L631.4,2416.3 L631.7,2414.3 L632.0,2412.4 L632.3,2410.4 L632.6,2408.4 L632.9,2406.4 L633.2,2404.5 L633.5,2402.5 L633.9,2400.5 L634.2,2398.5 L634.5,2396.5 L634.8,2394.6 L635.1,2392.6 L635.4,2390.6 L635.8,2388.7 L636.1,2386.7 L636.4,2384.7 L636.7,2382.7 L637.0,2380.8 L637.4,2378.8 L637.7,2376.8 L638.0,2374.8 L638.4,2372.9 L638.7,2370.9 L639.0,2368.9 L639.4,2366.9 L639.7,2365.0 L640.0,2363.0 L640.4,2361.0 L640.7,2359.1 L641.0,2357.1 L641.4,2355.1 L641.7,2353.1 L642.1,2351.2 L642.4,2349.2 L642.8,2347.2 L643.1,2345.3 L643.5,2343.3 L643.8,2341.3 L644.2,2339.4 L644.5,2337.4 L644.9,2335.4 L645.2,2333.5 L645.6,2331.5 L646.0,2329.5 L646.3,2327.6 L646.7,2325.6 L647.1,2323.6 L647.4,2321.7 L647.8,2319.7 L648.2,2317.7 L648.5,2315.8 L648.9,2313.8 L649.3,2311.8 L649.7,2309.9 L650.1,2307.9 L650.4,2305.9 L650.8,2304.0 L651.2,2302.0 L651.6,2300.0 L652.0,2298.1 L652.4,2296.1 L652.8,2294.2 L653.2,2292.2 L653.6,2290.2 L654.0,2288.3 L654.4,2286.3 L654.8,2284.4 L655.2,2282.4 L655.6,2280.5 L656.0,2278.5 L656.4,2276.5 L656.9,2274.6 L657.3,2272.6 L657.7,2270.7 L658.2,2268.7 L658.6,2266.8 L659.0,2264.8 L659.5,2262.9 L659.9,2260.9 L660.4,2259.0 L660.9,2257.0 L661.3,2255.1 L661.8,2253.1 L662.3,2251.2 L662.8,2249.3 L663.3,2247.3 L663.8,2245.4 L664.3,2243.5 L664.8,2241.5 L665.3,2239.6 L665.9,2237.7 L666.4,2235.7 L667.0,2233.8 L667.5,2231.9 L668.1,2230.0 L668.6,2228.1 L669.2,2226.1 L669.8,2224.2 L670.4,2222.3 L671.0,2220.4 L671.6,2218.5 L672.2,2216.6 L672.9,2214.7 L673.5,2212.8 L674.1,2210.9 L674.8,2209.0 L675.5,2207.1 L676.1,2205.3 L676.8,2203.4 L677.5,2201.5 L678.2,2199.6 L678.9,2197.8 L679.6,2195.9 L680.4,2194.0 L681.1,2192.2 L681.9,2190.3 L682.6,2188.5 L683.4,2186.6 L684.2,2184.8 L684.9,2182.9 L685.7,2181.1 L686.5,2179.3 L687.4,2177.4 L688.2,2175.6 L689.0,2173.8 L689.9,2172.0 L690.7,2170.2 L691.6,2168.4 L692.5,2166.6 L693.4,2164.8 L694.4,2163.1 L695.3,2161.3 L696.3,2159.6 L697.3,2157.8 L698.3,2156.1 L699.4,2154.4 L700.5,2152.7 L701.6,2151.1 L702.7,2149.4 L703.9,2147.8 L705.1,2146.2 L706.4,2144.7 L707.7,2143.2 L709.0,2141.7 L710.4,2140.3 L711.9,2138.9 L713.4,2137.6 L715.0,2136.3 L716.6,2135.2 L718.3,2134.1 L720.0,2133.1 L721.8,2132.2 L723.7,2131.5 L725.6,2130.9 L727.5,2130.4 L729.5,2130.0 L731.5,2129.8 L733.5,2129.7 L735.5,2129.7 L737.5,2129.9 L739.4,2130.2 L741.4,2130.6 L743.3,2131.1 L745.3,2131.7 L747.1,2132.4 L748.9,2133.2 L750.7,2134.1 L752.5,2135.1 L754.2,2136.2 L755.8,2137.3 L757.4,2138.5 L758.9,2139.8 L760.4,2141.1 L761.9,2142.5 L763.3,2143.9 L764.7,2145.3 L766.1,2146.8 L767.4,2148.3 L768.7,2149.8 L769.9,2151.4 L771.1,2153.0 L772.3,2154.6 L773.5,2156.2 L774.7,2157.8 L775.8,2159.5 L776.9,2161.1 L778.0,2162.8 L779.1,2164.5 L780.2,2166.2 L781.2,2167.9 L782.3,2169.6 L783.3,2171.3 L784.4,2173.0 L785.4,2174.7 L786.4,2176.4 L787.4,2178.1 L788.4,2179.9 L789.4,2181.6 L790.4,2183.4 L791.4,2185.1 L792.4,2186.8 L793.3,2188.6 L794.3,2190.3 L795.3,2192.1 L796.2,2193.8 L797.2,2195.6 L798.1,2197.4 L799.0,2199.1 L800.0,2200.9 L800.9,2202.7 L801.8,2204.5 L802.7,2206.2 L803.6,2208.0 L804.5,2209.8 L805.4,2211.6 L806.3,2213.4 L807.2,2215.2 L808.1,2217.0 L808.9,2218.8 L809.8,2220.6 L810.6,2222.4 L811.5,2224.2 L812.3,2226.0 L813.2,2227.9 L814.0,2229.7 L814.8,2231.5 L815.7,2233.3 L816.5,2235.1 L817.3,2237.0 L818.1,2238.8 L818.9,2240.6 L819.7,2242.5 L820.5,2244.3 L821.2,2246.2 L822.0,2248.0 L822.8,2249.9 L823.5,2251.7 L824.3,2253.5 L825.1,2255.4 L825.8,2257.3 L826.6,2259.1 L827.3,2261.0 L828.0,2262.8 L828.8,2264.7 L829.5,2266.6 L830.2,2268.4 L830.9,2270.3 L831.6,2272.2 L832.3,2274.0 L833.0,2275.9 L833.7,2277.8 L834.4,2279.7 L835.1,2281.5 L835.8,2283.4 L836.5,2285.3 L837.2,2287.2 L837.8,2289.1 L838.5,2290.9 L839.2,2292.8 L839.8,2294.7 L840.5,2296.6 L841.1,2298.5 L841.8,2300.4 L842.4,2302.3 L843.1,2304.2 L843.7,2306.1 L844.4,2308.0 L845.0,2309.9 L845.6,2311.8 L846.2,2313.7 L846.9,2315.6 L847.5,2317.5 L848.1,2319.4 L848.7,2321.3 L849.3,2323.2 L850.0,2325.1 L850.6,2327.0 L851.2,2328.9 L851.8,2330.8 L852.4,2332.7 L853.0,2334.6 L853.6,2336.5 L854.2,2338.4 L854.8,2340.3 L855.3,2342.3 L855.9,2344.2 L856.5,2346.1 L857.1,2348.0 L857.7,2349.9 L858.3,2351.8 L858.8,2353.7 L859.4,2355.7 L860.0,2357.6 L860.6,2359.5 L861.1,2361.4 L861.7,2363.3 L862.3,2365.2 L862.8,2367.2 L863.4,2369.1 L864.0,2371.0 L864.5,2372.9 L865.1,2374.8 L865.7,2376.8 L866.2,2378.7 L866.8,2380.6 L867.3,2382.5 L867.9,2384.4 L868.4,2386.4 L869.0,2388.3 L869.5,2390.2 L870.1,2392.1 L870.6,2394.1 L871.1,2396.0 L871.7,2397.9 L872.2,2399.8 L872.8,2401.8 L873.3,2403.7 L873.8,2405.6 L874.4,2407.6 L874.9,2409.5 L875.4,2411.4 L876.0,2413.3 L876.5,2415.3 L877.0,2417.2 L877.5,2419.1 L878.1,2421.1 L878.6,2423.0 L879.1,2424.9 L879.6,2426.8 L880.1,2428.8 L880.7,2430.7 L881.2,2432.6 L881.7,2434.6 L882.2,2436.5 L882.7,2438.4 L883.2,2440.4 L883.8,2442.3 L884.3,2444.2 L884.8,2446.2 L885.3,2448.1 L885.8,2450.0 L886.3,2452.0 L886.8,2453.9 L887.3,2455.8 L887.8,2457.8 L888.3,2459.7 L888.8,2461.7 L889.4,2463.6 L889.9,2465.5 L890.4,2467.5 L890.9,2469.4 L891.4,2471.3 L891.9,2473.3 L892.4,2475.2 L892.9,2477.1 L893.4,2479.1 L893.9,2481.0 L894.4,2483.0 L894.9,2484.9 L895.4,2486.8 L895.9,2488.8 L896.4,2490.7 L896.9,2492.6 L897.4,2494.6 L897.8,2496.5 L898.3,2498.5 L898.8,2500.4 L899.3,2502.3 L899.8,2504.3 L900.3,2506.2 L900.8,2508.1 L901.3,2510.1 L901.8,2512.0 L902.3,2514.0 L902.8,2515.9 L903.3,2517.8 L903.8,2519.8 L904.3,2521.7 L904.8,2523.6 L905.3,2525.6 L905.8,2527.5 L906.3,2529.5 L906.8,2531.4 L907.2,2533.3 L907.7,2535.3 L908.2,2537.2 L908.7,2539.2 L909.2,2541.1 L909.7,2543.0 L910.2,2545.0 L910.7,2546.9 L911.2,2548.8 L911.7,2550.8 L912.2,2552.7 L912.7,2554.7 L913.2,2556.6 L913.7,2558.5 L914.2,2560.5 L914.7,2562.4 L915.2,2564.3 L915.7,2566.3 L916.2,2568.2 L916.7,2570.2 L917.2,2572.1 L917.7,2574.0 L918.2,2576.0 L918.7,2577.9 L919.2,2579.8 L919.7,2581.8 L920.2,2583.7 L920.7,2585.6 L921.2,2587.6 L921.7,2589.5 L922.2,2591.4 L922.7,2593.4 L923.2,2595.3 L923.7,2597.3 L924.2,2599.2 L924.8,2601.1 L925.3,2603.1 L925.8,2605.0 L926.3,2606.9 L926.8,2608.9 L927.3,2610.8 L927.8,2612.7 L928.4,2614.7 L928.9,2616.6 L929.4,2618.5 L929.9,2620.4 L930.4,2622.4 L931.0,2624.3 L931.5,2626.2 L932.0,2628.2 L932.5,2630.1 L933.0,2632.0 L933.6,2634.0 L934.1,2635.9 L934.6,2637.8 L935.2,2639.7 L935.7,2641.7 L936.2,2643.6 L936.8,2645.5 L937.3,2647.5 L937.8,2649.4 L938.4,2651.3 L938.9,2653.2 L939.5,2655.2 L940.0,2657.1 L940.5,2659.0 L941.1,2660.9 L941.6,2662.9 L942.2,2664.8 L942.7,2666.7 L943.3,2668.6 L943.8,2670.6 L944.4,2672.5 L945.0,2674.4 L945.5,2676.3 L946.1,2678.2 L946.6,2680.2 L947.2,2682.1 L947.8,2684.0 L948.3,2685.9 L948.9,2687.8 L949.5,2689.7 L950.0,2691.7 L950.6,2693.6 L951.2,2695.5 L951.8,2697.4 L952.4,2699.3 L952.9,2701.2 L953.5,2703.2 L954.1,2705.1 L954.7,2707.0 L955.3,2708.9 L955.9,2710.8 L956.5,2712.7 L957.1,2714.6 L957.7,2716.5 L958.3,2718.4 L958.9,2720.3 L959.5,2722.2 L960.1,2724.2 L960.7,2726.1 L961.3,2728.0 L961.9,2729.9 L962.5,2731.8 L963.1,2733.7 L963.8,2735.6 L964.4,2737.5 L965.0,2739.4 L965.6,2741.3 L966.3,2743.2 L966.9,2745.1 L967.5,2747.0 L968.2,2748.9 L968.8,2750.8 L969.4,2752.7 L970.1,2754.6 L970.7,2756.5 L971.3,2758.4 L972.0,2760.2 L972.6,2762.1 L973.3,2764.0 L973.9,2765.9 L974.6,2767.8 L975.2,2769.7 L975.8,2771.6 L976.5,2773.5 L977.1,2775.4 L977.8,2777.3 L978.4,2779.2 L979.1,2781.1 L979.7,2783.0 L980.4,2784.9 L981.0,2786.7 L981.7,2788.6 L982.3,2790.5 L983.0,2792.4 L983.6,2794.3 L984.3,2796.2 L984.9,2798.1 L985.6,2800.0 L986.2,2801.9 L986.8,2803.8 L987.5,2805.7 L988.1,2807.6 L988.8,2809.5 L989.4,2811.4 L990.1,2813.3 L990.7,2815.2 L991.3,2817.0 L992.0,2818.9 L992.6,2820.8 L993.2,2822.7 L993.9,2824.6 L994.5,2826.5 L995.1,2828.4 L995.7,2830.3 L996.4,2832.2 L997.0,2834.1 L997.6,2836.0 L998.2,2837.9 L998.8,2839.8 L999.5,2841.7 L1000.1,2843.7 L1000.7,2845.6 L1001.3,2847.5 L1001.9,2849.4 L1002.5,2851.3 L1003.1,2853.2 L1003.7,2855.1 L1004.3,2857.0 L1004.9,2858.9 L1005.5,2860.8 L1006.1,2862.7 L1006.7,2864.6 L1007.3,2866.5 L1007.9,2868.4 L1008.5,2870.3 L1009.1,2872.3 L1009.7,2874.2 L1010.3,2876.1 L1010.9,2878.0 L1011.5,2879.9 L1012.1,2881.8 L1012.7,2883.7 L1013.3,2885.6 L1014.0,2887.5 L1014.6,2889.4 L1015.2,2891.3 L1015.8,2893.2 L1016.4,2895.1 L1017.0,2897.0 L1017.6,2898.9 L1018.2,2900.9 L1018.8,2902.8 L1019.4,2904.7 L1020.1,2906.6 L1020.7,2908.5 L1021.3,2910.4 L1021.9,2912.3 L1022.6,2914.2 L1023.2,2916.1 L1023.8,2918.0 L1024.4,2919.9 L1025.1,2921.8 L1025.7,2923.7 L1026.4,2925.5 L1027.0,2927.4 L1027.7,2929.3 L1028.3,2931.2 L1029.0,2933.1 L1029.6,2935.0 L1030.3,2936.9 L1030.9,2938.8 L1031.6,2940.7 L1032.3,2942.5 L1033.0,2944.4 L1033.6,2946.3 L1034.3,2948.2 L1035.0,2950.1 L1035.7,2951.9 L1036.4,2953.8 L1037.1,2955.7 L1037.8,2957.6 L1038.5,2959.4 L1039.3,2961.3 L1040.0,2963.2 L1040.7,2965.0 L1041.4,2966.9 L1042.2,2968.7 L1042.9,2970.6 L1043.6,2972.5 L1044.4,2974.3 L1045.2,2976.2 L1045.9,2978.0 L1046.7,2979.9 L1047.5,2981.7 L1048.2,2983.6 L1049.0,2985.4 L1049.8,2987.2 L1050.6,2989.1 L1051.4,2990.9 L1052.2,2992.7 L1053.0,2994.6 L1053.8,2996.4 L1054.7,2998.2 L1055.5,3000.0 L1056.3,3001.9 L1057.2,3003.7 L1058.0,3005.5 L1058.9,3007.3 L1059.7,3009.1 L1060.6,3010.9 L1061.5,3012.7 L1062.3,3014.5 L1063.2,3016.3 L1064.1,3018.1 L1065.0,3019.9 L1065.9,3021.6 L1066.8,3023.4 L1067.8,3025.2 L1068.7,3027.0 L1069.6,3028.7 L1070.6,3030.5 L1071.5,3032.3 L1072.5,3034.0 L1073.4,3035.8 L1074.4,3037.5 L1075.4,3039.3 L1076.4,3041.0 L1077.4,3042.7 L1078.4,3044.5 L1079.4,3046.2 L1080.4,3047.9 L1081.4,3049.6 L1082.4,3051.4 L1083.5,3053.1 L1084.5,3054.8 L1085.6,3056.5 L1086.7,3058.2 L1087.7,3059.8 L1088.8,3061.5 L1089.9,3063.2 L1091.0,3064.9 L1092.1,3066.5 L1093.2,3068.2 L1094.3,3069.9 L1095.5,3071.5 L1096.6,3073.2 L1097.8,3074.8 L1098.9,3076.4 L1100.1,3078.0 L1101.3,3079.7 L1102.4,3081.3 L1103.6,3082.9 L1104.8,3084.5 L1106.1,3086.1 L1107.3,3087.7 L1108.5,3089.2 L1109.7,3090.8 L1111.0,3092.4 L1112.2,3093.9 L1113.5,3095.5 L1114.8,3097.0 L1116.1,3098.5 L1117.4,3100.1 L1118.7,3101.6 L1120.0,3103.1 L1121.3,3104.6 L1122.6,3106.1 L1124.0,3107.6 L1125.3,3109.1 L1126.7,3110.5 L1128.0,3112.0 L1129.4,3113.4 L1130.8,3114.9 L1132.2,3116.3 L1133.6,3117.7 L1135.0,3119.2 L1136.4,3120.6 L1137.9,3122.0 L1139.3,3123.3 L1140.8,3124.7 L1142.2,3126.1 L1143.7,3127.5 L1145.2,3128.8 L1146.6,3130.2 L1148.1,3131.5 L1149.6,3132.8 L1151.1,3134.2 L1152.6,3135.5 L1154.1,3136.8 L1155.6,3138.1 L1157.2,3139.4 L1158.7,3140.7 L1160.2,3141.9 L1161.8,3143.2 L1163.3,3144.5 L1164.9,3145.7 L1166.5,3147.0 L1168.0,3148.2 L1169.6,3149.5 L1171.2,3150.7 L1172.7,3151.9 L1174.3,3153.2 L1175.9,3154.4 L1177.5,3155.6 L1179.1,3156.8 L1180.7,3158.0 L1182.3,3159.2 L1183.9,3160.3 L1185.6,3161.5 L1187.2,3162.7 L1188.8,3163.9 L1190.4,3165.0 L1192.0,3166.2 L1193.7,3167.3 L1195.3,3168.5 L1197.0,3169.6 L1198.6,3170.8 L1200.2,3171.9 L1201.9,3173.1 L1203.5,3174.2 L1205.2,3175.3 L1206.9,3176.4 L1208.5,3177.5 L1210.2,3178.7 L1211.8,3179.8 L1213.5,3180.9 L1215.2,3182.0 L1216.8,3183.1 L1218.5,3184.2 L1220.2,3185.3 L1221.9,3186.4 L1223.5,3187.5 L1225.2,3188.5 L1226.9,3189.6 L1228.6,3190.7 L1230.3,3191.8 L1232.0,3192.9 L1233.7,3193.9 L1235.3,3195.0 L1237.0,3196.1 L1238.7,3197.1 L1240.4,3198.2 L1242.1,3199.2 L1243.8,3200.3 L1245.5,3201.4 L1247.2,3202.4 L1248.9,3203.5 L1250.6,3204.5 L1252.3,3205.5 L1254.0,3206.6 L1255.8,3207.6 L1257.5,3208.7 L1259.2,3209.7 L1260.9,3210.7 L1262.6,3211.8 L1264.3,3212.8 L1266.0,3213.8 L1267.7,3214.9 L1269.5,3215.9 L1271.2,3216.9 L1272.9,3217.9 L1274.6,3218.9 L1276.3,3220.0 L1278.1,3221.0 L1279.8,3222.0 L1281.5,3223.0 L1283.2,3224.0 L1285.0,3225.0 L1286.7,3226.1 L1288.4,3227.1 L1290.1,3228.1 L1291.9,3229.1 L1293.6,3230.1 L1295.3,3231.1 L1297.1,3232.1 L1298.8,3233.1 L1300.5,3234.1 L1302.2,3235.1 L1304.0,3236.1 L1305.7,3237.1 L1307.4,3238.1 L1309.2,3239.1 L1310.9,3240.1 L1312.7,3241.1 L1314.4,3242.1 L1316.1,3243.1 L1317.9,3244.0 L1319.6,3245.0 L1321.4,3246.0 L1323.1,3246.9 L1324.9,3247.9 L1326.7,3248.8 L1328.4,3249.8 L1330.2,3250.7 L1332.0,3251.6 L1333.8,3252.5 L1335.5,3253.4 L1337.3,3254.3 L1339.1,3255.2 L1340.9,3256.1 L1342.7,3256.9 L1344.6,3257.8 L1346.4,3258.6 L1348.2,3259.4 L1350.0,3260.2 L1351.9,3261.0 L1353.7,3261.8 L1355.6,3262.5 L1357.4,3263.3 L1359.3,3264.0 L1361.2,3264.7 L1363.0,3265.4 L1364.9,3266.0 L1366.8,3266.7 L1368.7,3267.3 L1370.6,3267.9 L1372.5,3268.5 L1374.5,3269.1 L1376.4,3269.6 L1378.3,3270.1 L1380.3,3270.6 L1382.2,3271.0 L1384.2,3271.5 L1386.1,3271.9 L1388.1,3272.3 L1390.1,3272.6 L1392.0,3273.0 L1394.0,3273.3 L1396.0,3273.6 L1398.0,3273.9 L1399.9,3274.1 L1401.9,3274.3 L1403.9,3274.6 L1405.9,3274.8 L1407.9,3274.9 L1409.9,3275.1 L1411.9,3275.2 L1413.9,3275.4 L1415.9,3275.5 L1417.9,3275.6 L1419.9,3275.7 L1421.9,3275.7 L1423.9,3275.8 L1425.9,3275.9 L1427.9,3275.9 L1429.9,3275.9 L1431.9,3275.9 L1433.9,3276.0 L1435.9,3276.0 L1437.9,3276.0 L1439.9,3275.9 L1441.9,3275.9 L1443.9,3275.9 L1445.9,3275.9 L1447.9,3275.8 L1449.9,3275.8 L1451.9,3275.8 L1453.9,3275.7 L1455.9,3275.7 L1457.9,3275.6 L1459.9,3275.6 L1461.9,3275.5 L1463.9,3275.5 L1465.9,3275.4 L1467.9,3275.4 L1469.9,3275.4 L1471.9,3275.3 L1473.9,3275.3 L1475.9,3275.2 L1477.9,3275.2 L1479.9,3275.2 L1481.9,3275.2 L1483.9,3275.2 L1485.9,3275.2 L1487.9,3275.2 L1489.9,3275.2 L1491.9,3275.2 L1493.9,3275.2 L1495.9,3275.2 L1497.9,3275.3 L1499.9,3275.3 L1501.9,3275.4 L1503.9,3275.4 L1505.9,3275.5 L1507.9,3275.6 L1509.9,3275.6 L1511.9,3275.7 L1513.9,3275.8 L1515.9,3275.9 L1517.9,3276.0 L1519.9,3276.1 L1521.9,3276.2 L1523.9,3276.4 L1525.9,3276.5 L1527.8,3276.6 L1529.8,3276.8 L1531.8,3276.9 L1533.8,3277.1 L1535.8,3277.2 L1537.8,3277.4 L1539.8,3277.6 L1541.8,3277.8 L1543.8,3278.0 L1545.8,3278.2 L1547.8,3278.4 L1549.8,3278.6 L1551.7,3278.8 L1553.7,3279.1 L1555.7,3279.4 L1557.7,3279.6 L1559.7,3279.9 L1561.7,3280.2 L1563.6,3280.5 L1565.6,3280.8 L1567.6,3281.1 L1569.6,3281.5 L1571.5,3281.8 L1573.5,3282.2 L1575.5,3282.6 L1577.4,3282.9 L1579.4,3283.3 L1581.3,3283.8 L1583.3,3284.2 L1585.2,3284.6 L1587.2,3285.1 L1589.1,3285.6 L1591.1,3286.1 L1593.0,3286.6 L1594.9,3287.1 L1596.9,3287.6 L1598.8,3288.1 L1600.7,3288.7 L1602.7,3289.2 L1604.6,3289.7 L1606.5,3290.3 L1608.4,3290.9 L1610.3,3291.4 L1612.2,3292.0 L1614.2,3292.6 L1616.1,3293.2 L1618.0,3293.8 L1619.9,3294.3 L1621.8,3294.9 L1623.7,3295.5 L1625.6,3296.1 L1627.6,3296.7 L1629.5,3297.3 L1631.4,3297.8 L1633.3,3298.4 L1635.2,3299.0 L1637.1,3299.5 L1639.1,3300.1 L1641.0,3300.7 L1642.9,3301.2 L1644.8,3301.7 L1646.8,3302.3 L1648.7,3302.8 L1650.6,3303.3 L1652.6,3303.8 L1654.5,3304.3 L1656.4,3304.8 L1658.4,3305.2 L1660.3,3305.7 L1662.3,3306.1 L1664.3,3306.5 L1666.2,3306.9 L1668.2,3307.3 L1670.1,3307.7 L1672.1,3308.0 L1674.1,3308.3 L1676.1,3308.7 L1678.0,3309.0 L1680.0,3309.2 L1682.0,3309.5 L1684.0,3309.8 L1686.0,3310.0 L1687.9,3310.3 L1689.9,3310.5 L1691.9,3310.7 L1693.9,3310.9 L1695.9,3311.1 L1697.9,3311.3 L1699.9,3311.4 L1701.9,3311.6 L1703.9,3311.7 L1705.9,3311.9 L1707.9,3312.0 L1709.9,3312.1 L1711.9,3312.3 L1713.9,3312.4 L1715.9,3312.5 L1717.9,3312.6 L1719.9,3312.7 L1721.9,3312.8 L1723.9,3312.8 L1725.9,3312.9 L1727.9,3313.0 L1729.9,3313.1 L1731.8,3313.1 L1733.8,3313.2 L1735.8,3313.3 L1737.8,3313.3 L1739.8,3313.4 L1741.8,3313.4 L1743.8,3313.5 L1745.8,3313.6 L1747.8,3313.6 L1749.8,3313.7 L1751.8,3313.8 L1753.8,3313.8 L1755.8,3313.9 L1757.8,3314.0 L1759.8,3314.0 L1761.8,3314.1 L1763.8,3314.2 L1765.8,3314.3 L1767.8,3314.4 L1769.8,3314.5 L1771.8,3314.6 L1773.8,3314.7 L1775.8,3314.8 L1777.8,3314.9 L1779.8,3315.1 L1781.8,3315.2 L1783.8,3315.4 L1785.8,3315.5 L1787.8,3315.7 L1789.8,3315.9 L1791.8,3316.1 L1793.8,3316.3 L1795.8,3316.5 L1797.7,3316.7 L1799.7,3316.9 L1801.7,3317.2 L1803.7,3317.4 L1805.7,3317.7 L1807.7,3318.0 L1809.6,3318.3 L1811.6,3318.6 L1813.6,3318.9 L1815.6,3319.3 L1817.5,3319.7 L1819.5,3320.0 L1821.4,3320.4 L1823.4,3320.9 L1825.4,3321.3 L1827.3,3321.7 L1829.2,3322.2 L1831.2,3322.7 L1833.1,3323.2 L1835.1,3323.7 L1837.0,3324.3 L1838.9,3324.8 L1840.8,3325.4 L1842.7,3326.0 L1844.6,3326.6 L1846.5,3327.3"/>
<path stroke="#ff0000" d="M336.3,3367.2 L338.3,3367.2 L340.3,3367.1 L342.3,3367.1 L344.3,3367.0 L346.3,3366.9 L348.3,3366.8 L350.3,3366.6 L352.3,3366.5 L354.3,3366.3 L356.3,3366.1 L358.2,3365.9 L360.2,3365.6 L362.2,3365.3 L364.2,3365.1 L366.2,3364.8 L368.1,3364.4 L370.1,3364.1 L372.1,3363.7 L374.0,3363.3 L376.0,3362.9 L377.9,3362.5 L379.9,3362.0 L381.8,3361.5 L383.8,3361.0 L385.7,3360.4 L387.6,3359.9 L389.5,3359.2 L391.4,3358.6 L393.3,3358.0 L395.2,3357.3 L397.0,3356.5 L398.9,3355.8 L400.7,3355.0 L402.6,3354.2 L404.4,3353.3 L406.2,3352.5 L407.9,3351.5 L409.7,3350.6 L411.4,3349.6 L413.2,3348.6 L414.9,3347.5 L416.5,3346.4 L418.2,3345.3 L419.8,3344.1 L421.4,3342.9 L423.0,3341.7 L424.5,3340.4 L426.0,3339.1 L427.5,3337.8 L429.0,3336.4 L430.4,3335.0 L431.8,3333.6 L433.2,3332.1 L434.5,3330.6 L435.9,3329.1 L437.2,3327.6 L438.5,3326.1 L439.7,3324.5 L440.9,3323.0 L442.2,3321.4 L443.4,3319.8 L444.5,3318.1 L445.7,3316.5 L446.8,3314.9 L447.9,3313.2 L449.0,3311.5 L450.1,3309.8 L451.2,3308.2 L452.2,3306.5 L453.3,3304.7 L454.3,3303.0 L455.3,3301.3 L456.3,3299.6 L457.3,3297.8 L458.3,3296.1 L459.2,3294.3 L460.2,3292.6 L461.1,3290.8 L462.1,3289.0 L463.0,3287.3 L463.9,3285.5 L464.8,3283.7 L465.7,3281.9 L466.6,3280.1 L467.5,3278.4 L468.4,3276.6 L469.3,3274.8 L470.1,3273.0 L471.0,3271.1 L471.8,3269.3 L472.7,3267.5 L473.5,3265.7 L474.3,3263.9 L475.1,3262.0 L475.9,3260.2 L476.7,3258.4 L477.5,3256.5 L478.3,3254.7 L479.0,3252.8 L479.8,3251.0 L480.6,3249.1 L481.3,3247.3 L482.0,3245.4 L482.8,3243.6 L483.5,3241.7 L484.2,3239.8 L484.9,3237.9 L485.6,3236.1 L486.3,3234.2 L487.0,3232.3 L487.7,3230.4 L488.4,3228.6 L489.0,3226.7 L489.7,3224.8 L490.3,3222.9 L491.0,3221.0 L491.6,3219.1 L492.3,3217.2 L492.9,3215.3 L493.5,3213.4 L494.1,3211.5 L494.8,3209.6 L495.4,3207.7 L496.0,3205.8 L496.6,3203.9 L497.2,3202.0 L497.7,3200.1 L498.3,3198.1 L498.9,3196.2 L499.5,3194.3 L500.0,3192.4 L500.6,3190.5 L501.1,3188.5 L501.7,3186.6 L502.2,3184.7 L502.8,3182.8 L503.3,3180.8 L503.8,3178.9 L504.4,3177.0 L504.9,3175.1 L505.4,3173.1 L505.9,3171.2 L506.4,3169.3 L506.9,3167.3 L507.4,3165.4 L507.9,3163.4 L508.4,3161.5 L508.9,3159.6 L509.4,3157.6 L509.9,3155.7 L510.4,3153.7 L510.8,3151.8 L511.3,3149.9 L511.8,3147.9 L512.3,3146.0 L512.7,3144.0 L513.2,3142.1 L513.6,3140.1 L514.1,3138.2 L514.6,3136.2 L515.0,3134.3 L515.5,3132.3 L515.9,3130.4 L516.3,3128.4 L516.8,3126.5 L517.2,3124.5 L517.7,3122.6 L518.1,3120.6 L518.5,3118.7 L519.0,3116.7 L519.4,3114.8 L519.8,3112.8 L520.3,3110.9 L520.7,3108.9 L521.1,3107.0 L521.5,3105.0 L522.0,3103.0 L522.4,3101.1 L522.8,3099.1 L523.2,3097.2 L523.7,3095.2 L524.1,3093.3 L524.5,3091.3 L524.9,3089.4 L525.3,3087.4 L525.8,3085.4 L526.2,3083.5 L526.6,3081.5 L527.0,3079.6 L527.4,3077.6 L527.9,3075.7 L528.3,3073.7 L528.7,3071.8 L529.1,3069.8 L529.5,3067.8 L529.9,3065.9 L530.4,3063.9 L530.8,3062.0 L531.2,3060.0 L531.6,3058.1 L532.0,3056.1 L532.4,3054.1 L532.9,3052.2 L533.3,3050.2 L533.7,3048.3 L534.1,3046.3 L534.5,3044.4 L534.9,3042.4 L535.4,3040.4 L535.8,3038.5 L536.2,3036.5 L536.6,3034.6 L537.0,3032.6 L537.4,3030.7 L537.9,3028.7 L538.3,3026.8 L538.7,3024.8 L539.1,3022.8 L539.5,3020.9 L539.9,3018.9 L540.4,3017.0 L540.8,3015.0 L541.2,3013.1 L541.6,3011.1 L542.0,3009.1 L542.4,3007.2 L542.9,3005.2 L543.3,3003.3 L543.7,3001.3 L544.1,2999.4 L544.5,2997.4 L544.9,2995.4 L545.3,2993.5 L545.7,2991.5 L546.2,2989.6 L546.6,2987.6 L547.0,2985.7 L547.4,2983.7 L547.8,2981.7 L548.2,2979.8 L548.6,2977.8 L549.1,2975.9 L549.5,2973.9 L549.9,2972.0 L550.3,2970.0 L550.7,2968.0 L551.1,2966.1 L551.5,2964.1 L551.9,2962.2 L552.3,2960.2 L552.7,2958.2 L553.2,2956.3 L553.6,2954.3 L554.0,2952.4 L554.4,2950.4 L554.8,2948.5 L555.2,2946.5 L555.6,2944.5 L556.0,2942.6 L556.4,2940.6 L556.8,2938.7 L557.2,2936.7 L557.6,2934.7 L558.1,2932.8 L558.5,2930.8 L558.9,2928.9 L559.3,2926.9 L559.7,2925.0 L560.1,2923.0 L560.5,2921.0 L560.9,2919.1 L561.3,2917.1 L561.7,2915.2 L562.1,2913.2 L562.5,2911.2 L562.9,2909.3 L563.3,2907.3 L563.7,2905.4 L564.1,2903.4 L564.5,2901.4 L564.9,2899.5 L565.3,2897.5 L565.7,2895.6 L566.1,2893.6 L566.5,2891.6 L566.9,2889.7 L567.3,2887.7 L567.7,2885.8 L568.1,2883.8 L568.5,2881.8 L568.9,2879.9 L569.3,2877.9 L569.7,2876.0 L570.1,2874.0 L570.5,2872.0 L570.9,2870.1 L571.3,2868.1 L571.7,2866.2 L572.1,2864.2 L572.5,2862.2 L572.9,2860.3 L573.3,2858.3 L573.7,2856.4 L574.1,2854.4 L574.5,2852.4 L574.9,2850.5 L575.3,2848.5 L575.7,2846.6 L576.1,2844.6 L576.5,2842.6 L576.9,2840.7 L577.3,2838.7 L577.6,2836.7 L578.0,2834.8 L578.4,2832.8 L578.8,2830.9 L579.2,2828.9 L579.6,2826.9 L580.0,2825.0 L580.4,2823.0 L580.8,2821.1 L581.2,2819.1 L581.6,2817.1 L582.0,2815.2 L582.4,2813.2 L582.8,2811.3 L583.2,2809.3 L583.6,2807.3 L584.0,2805.4 L584.4,2803.4 L584.8,2801.5 L585.2,2799.5 L585.6,2797.5 L586.0,2795.6 L586.4,2793.6 L586.8,2791.6 L587.1,2789.7 L587.5,2787.7 L587.9,2785.8 L588.3,2783.8 L588.7,2781.8 L589.1,2779.9 L589.5,2777.9 L589.9,2776.0 L590.3,2774.0 L590.7,2772.0 L591.1,2770.1 L591.5,2768.1 L591.9,2766.2 L592.3,2764.2 L592.7,2762.2 L593.1,2760.3 L593.5,2758.3 L593.9,2756.4 L594.3,2754.4 L594.7,2752.4 L595.1,2750.5 L595.5,2748.5 L595.9,2746.6 L596.3,2744.6 L596.7,2742.6 L597.1,2740.7 L597.5,2738.7 L597.9,2736.8 L598.3,2734.8 L598.7,2732.8 L599.1,2730.9 L599.5,2728.9 L599.9,2727.0 L600.4,2725.0 L600.8,2723.0 L601.2,2721.1 L601.6,2719.1 L602.0,2717.2 L602.4,2715.2 L602.8,2713.3 L603.2,2711.3 L603.6,2709.3 L604.0,2707.4 L604.4,2705.4 L604.8,2703.5 L605.2,2701.5 L605.6,2699.5 L606.1,2697.6 L606.5,2695.6 L606.9,2693.7 L607.3,2691.7 L607.7,2689.8 L608.1,2687.8 L608.5,2685.8 L609.0,2683.9 L609.4,2681.9 L609.8,2680.0 L610.2,2678.0 L610.6,2676.1 L611.1,2674.1 L611.5,2672.2 L611.9,2670.2 L612.3,2668.3 L612.8,2666.3 L613.2,2664.3 L613.6,2662.4 L614.1,2660.4 L614.5,2658.5 L615.0,2656.5 L615.4,2654.6 L615.9,2652.6 L616.3,2650.7 L616.8,2648.7 L617.2,2646.8 L617.7,2644.8 L618.2,2642.9 L618.6,2641.0 L619.1,2639.0 L619.6,2637.1 L620.0,2635.1 L620.5,2633.2 L621.0,2631.2 L621.5,2629.3 L622.0,2627.4 L622.5,2625.4 L623.0,2623.5 L623.5,2621.6 L624.0,2619.6 L624.5,2617.7 L625.0,2615.8 L625.6,2613.8 L626.1,2611.9 L626.6,2610.0 L627.2,2608.0 L627.7,2606.1 L628.2,2604.2 L628.8,2602.3 L629.4,2600.3 L629.9,2598.4 L630.5,2596.5 L631.1,2594.6 L631.6,2592.7 L632.2,2590.8 L632.8,2588.9 L633.4,2586.9 L634.0,2585.0 L634.6,2583.1 L635.2,2581.2 L635.9,2579.3 L636.5,2577.4 L637.1,2575.5 L637.8,2573.6 L638.4,2571.7 L639.1,2569.9 L639.7,2568.0 L640.4,2566.1 L641.1,2564.2 L641.8,2562.3 L642.4,2560.4 L643.1,2558.6 L643.9,2556.7 L644.6,2554.8 L645.3,2553.0 L646.0,2551.1 L646.8,2549.2 L647.5,2547.4 L648.2,2545.5 L649.0,2543.7 L649.8,2541.8 L650.6,2540.0 L651.3,2538.1 L652.1,2536.3 L652.9,2534.5 L653.7,2532.6 L654.6,2530.8 L655.4,2529.0 L656.2,2527.2 L657.1,2525.4 L657.9,2523.6 L658.8,2521.8 L659.7,2520.0 L660.6,2518.2 L661.5,2516.4 L662.4,2514.6 L663.3,2512.8 L664.2,2511.0 L665.1,2509.3 L666.1,2507.5 L667.0,2505.7 L668.0,2504.0 L668.9,2502.2 L669.9,2500.5 L670.9,2498.8 L671.9,2497.0 L672.9,2495.3 L673.9,2493.6 L675.0,2491.9 L676.0,2490.2 L677.1,2488.5 L678.1,2486.8 L679.2,2485.1 L680.3,2483.4 L681.4,2481.7 L682.5,2480.0 L683.6,2478.4 L684.7,2476.7 L685.9,2475.1 L687.0,2473.4 L688.2,2471.8 L689.3,2470.2 L690.5,2468.6 L691.7,2467.0 L692.9,2465.4 L694.1,2463.8 L695.3,2462.2 L696.6,2460.6 L697.8,2459.0 L699.1,2457.5 L700.3,2455.9 L701.6,2454.4 L702.9,2452.8 L704.2,2451.3 L705.5,2449.8 L706.8,2448.3 L708.1,2446.8 L709.4,2445.3 L710.8,2443.8 L712.1,2442.4 L713.5,2440.9 L714.9,2439.4 L716.3,2438.0 L717.7,2436.6 L719.1,2435.2 L720.5,2433.7 L721.9,2432.3 L723.4,2430.9 L724.8,2429.6 L726.3,2428.2 L727.7,2426.8 L729.2,2425.5 L730.7,2424.2 L732.2,2422.9 L733.7,2421.6 L735.3,2420.3 L736.8,2419.0 L738.4,2417.7 L739.9,2416.5 L741.5,2415.2 L743.1,2414.0 L744.7,2412.8 L746.3,2411.6 L747.9,2410.4 L749.5,2409.3 L751.2,2408.1 L752.8,2407.0 L754.5,2405.9 L756.2,2404.8 L757.9,2403.8 L759.6,2402.7 L761.3,2401.7 L763.0,2400.7 L764.8,2399.7 L766.5,2398.7 L768.3,2397.8 L770.1,2396.9 L771.8,2396.0 L773.6,2395.1 L775.5,2394.3 L777.3,2393.4 L779.1,2392.6 L781.0,2391.9 L782.8,2391.1 L784.7,2390.4 L786.6,2389.7 L788.5,2389.1 L790.4,2388.5 L792.3,2387.9 L794.2,2387.3 L796.1,2386.8 L798.1,2386.3 L800.0,2385.9 L802.0,2385.5 L803.9,2385.1 L805.9,2384.7 L807.9,2384.4 L809.9,2384.2 L811.9,2383.9 L813.9,2383.7 L815.8,2383.6 L817.8,2383.5 L819.8,2383.4 L821.8,2383.4 L823.8,2383.4 L825.8,2383.4 L827.8,2383.5 L829.8,2383.7 L831.8,2383.8 L833.8,2384.0 L835.8,2384.3 L837.8,2384.6 L839.8,2384.9 L841.7,2385.3 L843.7,2385.7 L845.6,2386.1 L847.6,2386.6 L849.5,2387.1 L851.4,2387.7 L853.3,2388.3 L855.2,2388.9 L857.1,2389.6 L859.0,2390.3 L860.8,2391.1 L862.7,2391.8 L864.5,2392.6 L866.3,2393.5 L868.1,2394.4 L869.9,2395.3 L871.7,2396.2 L873.4,2397.2 L875.2,2398.2 L876.9,2399.2 L878.6,2400.2 L880.3,2401.3 L881.9,2402.4 L883.6,2403.6 L885.2,2404.7 L886.8,2405.9 L888.4,2407.1 L890.0,2408.3 L891.6,2409.6 L893.1,2410.8 L894.7,2412.1 L896.2,2413.4 L897.7,2414.7 L899.2,2416.0 L900.7,2417.4 L902.1,2418.8 L903.6,2420.1 L905.0,2421.5 L906.5,2422.9 L907.9,2424.3 L909.3,2425.8 L910.7,2427.2 L912.0,2428.7 L913.4,2430.1 L914.7,2431.6 L916.1,2433.1 L917.4,2434.6 L918.8,2436.1 L920.1,2437.6 L921.4,2439.1 L922.7,2440.6 L924.0,2442.1 L925.3,2443.7 L926.5,2445.2 L927.8,2446.8 L929.1,2448.3 L930.3,2449.9 L931.6,2451.4 L932.8,2453.0 L934.1,2454.6 L935.3,2456.1 L936.5,2457.7 L937.8,2459.3 L939.0,2460.9 L940.2,2462.5 L941.4,2464.0 L942.6,2465.6 L943.8,2467.2 L945.0,2468.9 L946.2,2470.5 L947.4,2472.1 L948.6,2473.7 L949.7,2475.3 L950.9,2476.9 L952.1,2478.6 L953.2,2480.2 L954.4,2481.8 L955.5,2483.5 L956.6,2485.1 L957.8,2486.8 L958.9,2488.4 L960.0,2490.1 L961.2,2491.7 L962.3,2493.4 L963.4,2495.1 L964.5,2496.7 L965.6,2498.4 L966.7,2500.1 L967.7,2501.8 L968.8,2503.5 L969.9,2505.1 L971.0,2506.8 L972.0,2508.5 L973.1,2510.2 L974.1,2511.9 L975.2,2513.6 L976.2,2515.3 L977.3,2517.0 L978.3,2518.8 L979.3,2520.5 L980.3,2522.2 L981.4,2523.9 L982.4,2525.6 L983.4,2527.4 L984.4,2529.1 L985.4,2530.8 L986.4,2532.6 L987.4,2534.3 L988.3,2536.1 L989.3,2537.8 L990.3,2539.5 L991.3,2541.3 L992.2,2543.0 L993.2,2544.8 L994.1,2546.6 L995.1,2548.3 L996.0,2550.1 L997.0,2551.8 L997.9,2553.6 L998.9,2555.4 L999.8,2557.1 L1000.7,2558.9 L1001.7,2560.7 L1002.6,2562.5 L1003.5,2564.3 L1004.4,2566.0 L1005.3,2567.8 L1006.2,2569.6 L1007.1,2571.4 L1008.0,2573.2 L1008.9,2575.0 L1009.8,2576.8 L1010.7,2578.5 L1011.6,2580.3 L1012.4,2582.1 L1013.3,2583.9 L1014.2,2585.7 L1015.1,2587.5 L1015.9,2589.3 L1016.8,2591.1 L1017.7,2592.9 L1018.5,2594.8 L1019.4,2596.6 L1020.2,2598.4 L1021.1,2600.2 L1021.9,2602.0 L1022.8,2603.8 L1023.6,2605.6 L1024.4,2607.4 L1025.3,2609.3 L1026.1,2611.1 L1026.9,2612.9 L1027.8,2614.7 L1028.6,2616.5 L1029.4,2618.4 L1030.2,2620.2 L1031.1,2622.0 L1031.9,2623.8 L1032.7,2625.7 L1033.5,2627.5 L1034.3,2629.3 L1035.1,2631.2 L1035.9,2633.0 L1036.7,2634.8 L1037.5,2636.7 L1038.3,2638.5 L1039.1,2640.3 L1039.9,2642.2 L1040.7,2644.0 L1041.5,2645.8 L1042.3,2647.7 L1043.1,2649.5 L1043.9,2651.3 L1044.7,2653.2 L1045.4,2655.0 L1046.2,2656.9 L1047.0,2658.7 L1047.8,2660.5 L1048.6,2662.4 L1049.4,2664.2 L1050.1,2666.1 L1050.9,2667.9 L1051.7,2669.8 L1052.5,2671.6 L1053.2,2673.4 L1054.0,2675.3 L1054.8,2677.1 L1055.6,2679.0 L1056.3,2680.8 L1057.1,2682.7 L1057.9,2684.5 L1058.6,2686.4 L1059.4,2688.2 L1060.2,2690.1 L1060.9,2691.9 L1061.7,2693.8 L1062.5,2695.6 L1063.2,2697.4 L1064.0,2699.3 L1064.8,2701.1 L1065.5,2703.0 L1066.3,2704.8 L1067.1,2706.7 L1067.8,2708.5 L1068.6,2710.4 L1069.4,2712.2 L1070.1,2714.1 L1070.9,2715.9 L1071.6,2717.8 L1072.4,2719.6 L1073.2,2721.5 L1073.9,2723.3 L1074.7,2725.2 L1075.4,2727.0 L1076.2,2728.9 L1077.0,2730.7 L1077.7,2732.6 L1078.5,2734.4 L1079.2,2736.3 L1080.0,2738.1 L1080.7,2740.0 L1081.5,2741.9 L1082.3,2743.7 L1083.0,2745.6 L1083.8,2747.4 L1084.5,2749.3 L1085.3,2751.1 L1086.0,2753.0 L1086.8,2754.8 L1087.6,2756.7 L1088.3,2758.5 L1089.1,2760.4 L1089.8,2762.2 L1090.6,2764.1 L1091.3,2765.9 L1092.1,2767.8 L1092.8,2769.6 L1093.6,2771.5 L1094.4,2773.3 L1095.1,2775.2 L1095.9,2777.0 L1096.6,2778.9 L1097.4,2780.7 L1098.1,2782.6 L1098.9,2784.4 L1099.7,2786.3 L1100.4,2788.1 L1101.2,2790.0 L1101.9,2791.8 L1102.7,2793.7 L1103.5,2795.5 L1104.2,2797.4 L1105.0,2799.2 L1105.7,2801.1 L1106.5,2802.9 L1107.3,2804.8 L1108.0,2806.6 L1108.8,2808.5 L1109.6,2810.3 L1110.3,2812.2 L1111.1,2814.0 L1111.8,2815.9 L1112.6,2817.7 L1113.4,2819.6 L1114.1,2821.4 L1114.9,2823.3 L1115.7,2825.1 L1116.4,2827.0 L1117.2,2828.8 L1118.0,2830.7 L1118.7,2832.5 L1119.5,2834.4 L1120.3,2836.2 L1121.1,2838.1 L1121.8,2839.9 L1122.6,2841.7 L1123.4,2843.6 L1124.2,2845.4 L1124.9,2847.3 L1125.7,2849.1 L1126.5,2851.0 L1127.3,2852.8 L1128.0,2854.7 L1128.8,2856.5 L1129.6,2858.3 L1130.4,2860.2 L1131.2,2862.0 L1131.9,2863.9 L1132.7,2865.7 L1133.5,2867.5 L1134.3,2869.4 L1135.1,2871.2 L1135.9,2873.1 L1136.7,2874.9 L1137.5,2876.7 L1138.2,2878.6 L1139.0,2880.4 L1139.8,2882.2 L1140.6,2884.1 L1141.4,2885.9 L1142.2,2887.7 L1143.0,2889.6 L1143.8,2891.4 L1144.6,2893.2 L1145.4,2895.1 L1146.3,2896.9 L1147.1,2898.7 L1147.9,2900.6 L1148.7,2902.4 L1149.5,2904.2 L1150.3,2906.0 L1151.2,2907.9 L1152.0,2909.7 L1152.8,2911.5 L1153.6,2913.3 L1154.5,2915.1 L1155.3,2917.0 L1156.2,2918.8 L1157.0,2920.6 L1157.8,2922.4 L1158.7,2924.2 L1159.5,2926.0 L1160.4,2927.8 L1161.2,2929.6 L1162.1,2931.4 L1163.0,2933.3 L1163.8,2935.1 L1164.7,2936.9 L1165.6,2938.7 L1166.5,2940.5 L1167.3,2942.2 L1168.2,2944.0 L1169.1,2945.8 L1170.0,2947.6 L1170.9,2949.4 L1171.8,2951.2 L1172.7,2953.0 L1173.6,2954.8 L1174.5,2956.5 L1175.4,2958.3 L1176.4,2960.1 L1177.3,2961.9 L1178.2,2963.7 L1179.1,2965.4 L1180.1,2967.2 L1181.0,2969.0 L1182.0,2970.7 L1182.9,2972.5 L1183.9,2974.2 L1184.8,2976.0 L1185.8,2977.7 L1186.8,2979.5 L1187.7,2981.2 L1188.7,2983.0 L1189.7,2984.7 L1190.7,2986.5 L1191.7,2988.2 L1192.7,2989.9 L1193.7,2991.6 L1194.7,2993.4 L1195.7,2995.1 L1196.8,2996.8 L1197.8,2998.5 L1198.8,3000.2 L1199.9,3002.0 L1200.9,3003.7 L1202.0,3005.4 L1203.0,3007.1 L1204.1,3008.8 L1205.2,3010.4 L1206.2,3012.1 L1207.3,3013.8 L1208.4,3015.5 L1209.5,3017.2 L1210.6,3018.8 L1211.7,3020.5 L1212.8,3022.2 L1213.9,3023.8 L1215.1,3025.5 L1216.2,3027.1 L1217.3,3028.8 L1218.5,3030.4 L1219.6,3032.0 L1220.8,3033.7 L1221.9,3035.3 L1223.1,3036.9 L1224.3,3038.5 L1225.5,3040.2 L1226.7,3041.8 L1227.9,3043.4 L1229.1,3045.0 L1230.3,3046.5 L1231.5,3048.1 L1232.7,3049.7 L1234.0,3051.3 L1235.2,3052.8 L1236.5,3054.4 L1237.7,3056.0 L1239.0,3057.5 L1240.3,3059.1 L1241.6,3060.6 L1242.8,3062.1 L1244.1,3063.7 L1245.4,3065.2 L1246.7,3066.7 L1248.1,3068.2 L1249.4,3069.7 L1250.7,3071.2 L1252.1,3072.7 L1253.4,3074.1 L1254.8,3075.6 L1256.1,3077.1 L1257.5,3078.5 L1258.9,3080.0 L1260.2,3081.4 L1261.6,3082.9 L1263.0,3084.3 L1264.4,3085.7 L1265.8,3087.2 L1267.2,3088.6 L1268.7,3090.0 L1270.1,3091.4 L1271.5,3092.8 L1273.0,3094.2 L1274.4,3095.6 L1275.8,3097.0 L1277.3,3098.3 L1278.8,3099.7 L1280.2,3101.1 L1281.7,3102.4 L1283.2,3103.8 L1284.6,3105.1 L1286.1,3106.5 L1287.6,3107.8 L1289.1,3109.1 L1290.6,3110.5 L1292.1,3111.8 L1293.6,3113.1 L1295.1,3114.4 L1296.6,3115.7 L1298.2,3117.0 L1299.7,3118.3 L1301.2,3119.6 L1302.8,3120.9 L1304.3,3122.2 L1305.8,3123.4 L1307.4,3124.7 L1308.9,3126.0 L1310.5,3127.2 L1312.0,3128.5 L1313.6,3129.7 L1315.2,3131.0 L1316.7,3132.2 L1318.3,3133.5 L1319.9,3134.7 L1321.5,3135.9 L1323.0,3137.2 L1324.6,3138.4 L1326.2,3139.6 L1327.8,3140.8 L1329.4,3142.0 L1331.0,3143.2 L1332.6,3144.4 L1334.2,3145.6 L1335.8,3146.8 L1337.4,3148.0 L1339.0,3149.2 L1340.6,3150.4 L1342.2,3151.6 L1343.8,3152.8 L1345.5,3153.9 L1347.1,3155.1 L1348.7,3156.3 L1350.3,3157.4 L1351.9,3158.6 L1353.6,3159.8 L1355.2,3160.9 L1356.8,3162.1 L1358.5,3163.2 L1360.1,3164.4 L1361.7,3165.5 L1363.4,3166.7 L1365.0,3167.8 L1366.7,3169.0 L1368.3,3170.1 L1370.0,3171.2 L1371.6,3172.4 L1373.3,3173.5 L1374.9,3174.6 L1376.6,3175.8 L1378.2,3176.9 L1379.9,3178.0 L1381.5,3179.1 L1383.2,3180.2 L1384.8,3181.4 L1386.5,3182.5 L1388.2,3183.6 L1389.8,3184.7 L1391.5,3185.8 L1393.2,3186.9 L1394.8,3188.0 L1396.5,3189.2 L1398.2,3190.3 L1399.8,3191.4 L1401.5,3192.5 L1403.2,3193.6 L1404.8,3194.7 L1406.5,3195.8 L1408.2,3196.9 L1409.8,3198.0 L1411.5,3199.1 L1413.2,3200.2 L1414.8,3201.3 L1416.5,3202.4 L1418.2,3203.5 L1419.9,3204.6 L1421.5,3205.7 L1423.2,3206.8 L1424.9,3207.9 L1426.5,3209.0 L1428.2,3210.1 L1429.9,3211.2 L1431.6,3212.3 L1433.2,3213.3 L1434.9,3214.4 L1436.6,3215.5 L1438.3,3216.6 L1440.0,3217.7 L1441.7,3218.7 L1443.4,3219.8 L1445.1,3220.9 L1446.8,3221.9 L1448.5,3222.9 L1450.2,3224.0 L1451.9,3225.0 L1453.6,3226.0 L1455.4,3227.0 L1457.1,3228.0 L1458.8,3229.0 L1460.6,3230.0 L1462.3,3231.0 L1464.1,3231.9 L1465.8,3232.9 L1467.6,3233.8 L1469.4,3234.7 L1471.2,3235.6 L1473.0,3236.5 L1474.8,3237.4 L1476.6,3238.2 L1478.4,3239.0 L1480.2,3239.9 L1482.1,3240.6 L1483.9,3241.4 L1485.8,3242.2 L1487.6,3242.9 L1489.5,3243.6 L1491.4,3244.3 L1493.3,3245.0 L1495.2,3245.6 L1497.1,3246.3 L1499.0,3246.9 L1500.9,3247.4 L1502.8,3248.0 L1504.7,3248.5 L1506.7,3249.0 L1508.6,3249.5 L1510.6,3249.9 L1512.5,3250.4 L1514.5,3250.8 L1516.4,3251.1 L1518.4,3251.5 L1520.4,3251.8 L1522.4,3252.2 L1524.3,3252.5 L1526.3,3252.8 L1528.3,3253.0 L1530.3,3253.3 L1532.3,3253.5 L1534.3,3253.7 L1536.2,3254.0 L1538.2,3254.2 L1540.2,3254.3 L1542.2,3254.5 L1544.2,3254.7 L1546.2,3254.8 L1548.2,3255.0 L1550.2,3255.1 L1552.2,3255.2 L1554.2,3255.4 L1556.2,3255.5 L1558.2,3255.6 L1560.2,3255.7 L1562.2,3255.8 L1564.2,3255.9 L1566.2,3256.0 L1568.2,3256.1 L1570.2,3256.1 L1572.2,3256.2 L1574.2,3256.3 L1576.2,3256.4 L1578.2,3256.5 L1580.2,3256.5 L1582.2,3256.6 L1584.2,3256.7 L1586.2,3256.8 L1588.2,3256.9 L1590.2,3257.0 L1592.2,3257.1 L1594.2,3257.2 L1596.2,3257.3 L1598.1,3257.4 L1600.1,3257.6 L1602.1,3257.7 L1604.1,3257.8 L1606.1,3258.0 L1608.1,3258.1 L1610.1,3258.3 L1612.1,3258.4 L1614.1,3258.6 L1616.1,3258.8 L1618.1,3259.0 L1620.1,3259.2 L1622.1,3259.5 L1624.1,3259.7 L1626.0,3259.9 L1628.0,3260.2 L1630.0,3260.5 L1632.0,3260.8 L1634.0,3261.1 L1635.9,3261.4 L1637.9,3261.7 L1639.9,3262.1 L1641.8,3262.5 L1643.8,3262.9 L1645.8,3263.3 L1647.7,3263.7 L1649.7,3264.1 L1651.6,3264.6 L1653.5,3265.1 L1655.5,3265.6 L1657.4,3266.1 L1659.3,3266.7 L1661.3,3267.2 L1663.2,3267.8 L1665.1,3268.4 L1667.0,3269.0 L1668.9,3269.6 L1670.8,3270.3 L1672.7,3270.9 L1674.6,3271.6 L1676.4,3272.3 L1678.3,3272.9 L1680.2,3273.6 L1682.1,3274.4 L1683.9,3275.1 L1685.8,3275.8 L1687.7,3276.5 L1689.5,3277.3 L1691.4,3278.0 L1693.2,3278.8 L1695.1,3279.5 L1696.9,3280.3 L1698.8,3281.1 L1700.6,3281.9 L1702.5,3282.6 L1704.3,3283.4 L1706.1,3284.2 L1708.0,3285.0 L1709.8,3285.8 L1711.6,3286.6 L1713.5,3287.4 L1715.3,3288.1 L1717.2,3288.9 L1719.0,3289.7 L1720.9,3290.5 L1722.7,3291.3 L1724.5,3292.0 L1726.4,3292.8 L1728.2,3293.6 L1730.1,3294.3 L1731.9,3295.1 L1733.8,3295.8 L1735.7,3296.6 L1737.5,3297.3 L1739.4,3298.0 L1741.3,3298.7 L1743.1,3299.4 L1745.0,3300.1 L1746.9,3300.8 L1748.8,3301.5 L1750.7,3302.1 L1752.6,3302.8 L1754.5,3303.4 L1756.4,3304.0 L1758.3,3304.6 L1760.2,3305.2 L1762.1,3305.8 L1764.0,3306.4 L1765.9,3306.9 L1767.9,3307.4 L1769.8,3307.9 L1771.7,3308.4 L1773.7,3308.9 L1775.6,3309.3 L1777.6,3309.7 L1779.6,3310.1 L1781.5,3310.5 L1783.5,3310.9 L1785.5,3311.2 L1787.4,3311.5 L1789.4,3311.8 L1791.4,3312.0 L1793.4,3312.3 L1795.4,3312.5 L1797.4,3312.6 L1799.4,3312.8 L1801.4,3312.9 L1803.4,3313.0 L1805.4,3313.0 L1807.4,3313.0 L1809.4,3313.0 L1811.4,3313.0 L1813.4,3312.9 L1815.4,3312.8 L1817.4,3312.6 L1819.4,3312.5 L1821.3,3312.3 L1823.3,3312.0 L1825.3,3311.8 L1827.3,3311.4 L1829.3,3311.1 L1831.2,3310.7 L1833.2,3310.3 L1835.1,3309.9 L1837.1,3309.4 L1839.0,3308.9 L1840.9,3308.4 L1842.9,3307.8 L1844.8,3307.2 L1846.7,3306.6"/>
<path stroke="#00c300" d="M336.9,3360.7 L338.8,3361.3 L340.8,3361.8 L342.7,3362.2 L344.6,3362.7 L346.6,3363.1 L348.6,3363.5 L350.5,3363.8 L352.5,3364.2 L354.5,3364.5 L356.5,3364.7 L358.5,3365.0 L360.5,3365.2 L362.5,3365.4 L364.4,3365.5 L366.4,3365.6 L368.4,3365.7 L370.4,3365.8 L372.4,3365.8 L374.5,3365.8 L376.5,3365.8 L378.5,3365.7 L380.5,3365.6 L382.5,3365.5 L384.4,3365.4 L386.4,3365.2 L388.4,3365.0 L390.4,3364.7 L392.4,3364.5 L394.4,3364.2 L396.4,3363.8 L398.3,3363.5 L400.3,3363.1 L402.3,3362.7 L404.2,3362.3 L406.2,3361.8 L408.1,3361.3 L410.0,3360.8 L412.0,3360.2 L413.9,3359.7 L415.8,3359.1 L417.7,3358.5 L419.6,3357.8 L421.5,3357.2 L423.4,3356.5 L425.2,3355.8 L427.1,3355.0 L428.9,3354.3 L430.8,3353.5 L432.6,3352.7 L434.4,3351.8 L436.2,3351.0 L438.1,3350.1 L439.8,3349.2 L441.6,3348.3 L443.4,3347.4 L445.2,3346.4 L446.9,3345.5 L448.7,3344.5 L450.4,3343.5 L452.1,3342.4 L453.8,3341.4 L455.5,3340.3 L457.2,3339.2 L458.9,3338.2 L460.5,3337.0 L462.2,3335.9 L463.8,3334.8 L465.4,3333.6 L467.1,3332.4 L468.7,3331.2 L470.3,3330.0 L471.9,3328.8 L473.4,3327.5 L475.0,3326.3 L476.5,3325.0 L478.1,3323.7 L479.6,3322.4 L481.1,3321.1 L482.6,3319.8 L484.1,3318.5 L485.6,3317.1 L487.0,3315.8 L488.5,3314.4 L489.9,3313.0 L491.4,3311.6 L492.8,3310.2 L494.2,3308.8 L495.6,3307.3 L497.0,3305.9 L498.4,3304.4 L499.7,3303.0 L501.1,3301.5 L502.4,3300.0 L503.7,3298.5 L505.0,3297.0 L506.3,3295.4 L507.6,3293.9 L508.9,3292.4 L510.1,3290.8 L511.4,3289.2 L512.6,3287.7 L513.9,3286.1 L515.1,3284.5 L516.3,3282.9 L517.5,3281.3 L518.6,3279.7 L519.8,3278.0 L521.0,3276.4 L522.1,3274.7 L523.2,3273.1 L524.3,3271.4 L525.5,3269.8 L526.5,3268.1 L527.6,3266.4 L528.7,3264.7 L529.8,3263.0 L530.8,3261.3 L531.9,3259.6 L532.9,3257.9 L533.9,3256.2 L534.9,3254.5 L535.9,3252.7 L536.9,3251.0 L537.9,3249.2 L538.9,3247.5 L539.8,3245.7 L540.8,3244.0 L541.7,3242.2 L542.7,3240.4 L543.6,3238.7 L544.5,3236.9 L545.4,3235.1 L546.3,3233.3 L547.2,3231.5 L548.1,3229.7 L549.0,3227.9 L549.9,3226.1 L550.7,3224.3 L551.6,3222.5 L552.4,3220.7 L553.3,3218.9 L554.1,3217.1 L554.9,3215.2 L555.8,3213.4 L556.6,3211.6 L557.4,3209.8 L558.2,3207.9 L559.0,3206.1 L559.8,3204.2 L560.6,3202.4 L561.3,3200.6 L562.1,3198.7 L562.9,3196.9 L563.7,3195.0 L564.4,3193.2 L565.2,3191.3 L565.9,3189.5 L566.7,3187.6 L567.4,3185.7 L568.1,3183.9 L568.9,3182.0 L569.6,3180.2 L570.3,3178.3 L571.1,3176.4 L571.8,3174.6 L572.5,3172.7 L573.2,3170.8 L573.9,3168.9 L574.7,3167.1 L575.4,3165.2 L576.1,3163.3 L576.8,3161.5 L577.5,3159.6 L578.2,3157.7 L578.9,3155.8 L579.6,3154.0 L580.3,3152.1 L581.0,3150.2 L581.7,3148.3 L582.4,3146.5 L583.1,3144.6 L583.8,3142.7 L584.5,3140.8 L585.2,3139.0 L585.9,3137.1 L586.6,3135.2 L587.3,3133.3 L588.0,3131.5 L588.7,3129.6 L589.4,3127.7 L590.1,3125.8 L590.8,3124.0 L591.5,3122.1 L592.2,3120.2 L592.9,3118.3 L593.6,3116.5 L594.4,3114.6 L595.1,3112.7 L595.8,3110.9 L596.5,3109.0 L597.2,3107.1 L598.0,3105.3 L598.7,3103.4 L599.4,3101.5 L600.2,3099.7 L600.9,3097.8 L601.6,3095.9 L602.4,3094.1 L603.1,3092.2 L603.9,3090.4 L604.6,3088.5 L605.3,3086.7 L606.1,3084.8 L606.8,3082.9 L607.6,3081.1 L608.4,3079.2 L609.1,3077.4 L609.9,3075.5 L610.6,3073.7 L611.4,3071.8 L612.2,3070.0 L613.0,3068.1 L613.7,3066.3 L614.5,3064.4 L615.3,3062.6 L616.1,3060.8 L616.9,3058.9 L617.6,3057.1 L618.4,3055.2 L619.2,3053.4 L620.0,3051.6 L620.8,3049.7 L621.6,3047.9 L622.4,3046.1 L623.2,3044.2 L624.0,3042.4 L624.9,3040.6 L625.7,3038.7 L626.5,3036.9 L627.3,3035.1 L628.1,3033.3 L629.0,3031.4 L629.8,3029.6 L630.6,3027.8 L631.5,3026.0 L632.3,3024.2 L633.1,3022.3 L634.0,3020.5 L634.8,3018.7 L635.7,3016.9 L636.5,3015.1 L637.4,3013.3 L638.2,3011.5 L639.1,3009.7 L639.9,3007.8 L640.8,3006.0 L641.7,3004.2 L642.6,3002.4 L643.4,3000.6 L644.3,2998.8 L645.2,2997.0 L646.1,2995.2 L647.0,2993.4 L647.8,2991.7 L648.7,2989.9 L649.6,2988.1 L650.5,2986.3 L651.4,2984.5 L652.3,2982.7 L653.3,2980.9 L654.2,2979.1 L655.1,2977.4 L656.0,2975.6 L656.9,2973.8 L657.8,2972.0 L658.8,2970.3 L659.7,2968.5 L660.6,2966.7 L661.6,2964.9 L662.5,2963.2 L663.5,2961.4 L664.4,2959.6 L665.4,2957.9 L666.3,2956.1 L667.3,2954.4 L668.2,2952.6 L669.2,2950.9 L670.2,2949.1 L671.1,2947.3 L672.1,2945.6 L673.1,2943.9 L674.0,2942.1 L675.0,2940.4 L676.0,2938.6 L677.0,2936.9 L678.0,2935.1 L679.0,2933.4 L680.0,2931.7 L681.0,2929.9 L682.0,2928.2 L683.0,2926.5 L684.0,2924.7 L685.0,2923.0 L686.1,2921.3 L687.1,2919.6 L688.1,2917.9 L689.2,2916.2 L690.2,2914.4 L691.2,2912.7 L692.3,2911.0 L693.3,2909.3 L694.4,2907.6 L695.4,2905.9 L696.5,2904.2 L697.6,2902.5 L698.7,2900.8 L699.7,2899.2 L700.8,2897.5 L701.9,2895.8 L703.0,2894.1 L704.1,2892.5 L705.2,2890.8 L706.3,2889.1 L707.5,2887.5 L708.6,2885.8 L709.7,2884.2 L710.9,2882.5 L712.0,2880.9 L713.2,2879.2 L714.3,2877.6 L715.5,2876.0 L716.7,2874.4 L717.9,2872.8 L719.0,2871.1 L720.2,2869.5 L721.4,2867.9 L722.7,2866.3 L723.9,2864.8 L725.1,2863.2 L726.3,2861.6 L727.6,2860.0 L728.8,2858.5 L730.1,2856.9 L731.3,2855.3 L732.6,2853.8 L733.9,2852.3 L735.2,2850.7 L736.5,2849.2 L737.8,2847.7 L739.1,2846.2 L740.4,2844.7 L741.8,2843.2 L743.1,2841.7 L744.5,2840.2 L745.8,2838.8 L747.2,2837.3 L748.6,2835.9 L750.0,2834.4 L751.4,2833.0 L752.8,2831.6 L754.2,2830.1 L755.6,2828.7 L757.0,2827.3 L758.5,2826.0 L759.9,2824.6 L761.4,2823.2 L762.9,2821.9 L764.4,2820.5 L765.9,2819.2 L767.4,2817.9 L768.9,2816.6 L770.4,2815.3 L771.9,2814.0 L773.5,2812.7 L775.0,2811.4 L776.6,2810.2 L778.2,2808.9 L779.8,2807.7 L781.4,2806.5 L783.0,2805.3 L784.6,2804.1 L786.2,2803.0 L787.8,2801.8 L789.5,2800.7 L791.1,2799.5 L792.8,2798.4 L794.5,2797.3 L796.2,2796.2 L797.8,2795.2 L799.5,2794.1 L801.3,2793.1 L803.0,2792.1 L804.7,2791.1 L806.5,2790.1 L808.2,2789.1 L810.0,2788.1 L811.7,2787.2 L813.5,2786.3 L815.3,2785.3 L817.1,2784.4 L818.9,2783.6 L820.7,2782.7 L822.5,2781.8 L824.3,2781.0 L826.1,2780.2 L827.9,2779.3 L829.8,2778.5 L831.6,2777.7 L833.4,2776.9 L835.3,2776.1 L837.1,2775.4 L839.0,2774.6 L840.8,2773.8 L842.7,2773.1 L844.5,2772.3 L846.4,2771.6 L848.3,2770.9 L850.1,2770.1 L852.0,2769.4 L853.9,2768.7 L855.7,2768.0 L857.6,2767.3 L859.5,2766.6 L861.3,2765.8 L863.2,2765.1 L865.1,2764.4 L867.0,2763.7 L868.8,2763.0 L870.7,2762.3 L872.6,2761.6 L874.5,2760.9 L876.3,2760.2 L878.2,2759.5 L880.1,2758.8 L882.0,2758.1 L883.8,2757.4 L885.7,2756.7 L887.6,2756.0 L889.5,2755.3 L891.4,2754.6 L893.2,2754.0 L895.1,2753.3 L897.0,2752.6 L898.9,2751.9 L900.8,2751.2 L902.6,2750.5 L904.5,2749.9 L906.4,2749.2 L908.3,2748.5 L910.2,2747.8 L912.1,2747.2 L914.0,2746.5 L915.8,2745.8 L917.7,2745.2 L919.6,2744.5 L921.5,2743.8 L923.4,2743.2 L925.3,2742.5 L927.2,2741.9 L929.1,2741.2 L931.0,2740.6 L932.9,2740.0 L934.8,2739.3 L936.7,2738.7 L938.6,2738.1 L940.5,2737.4 L942.4,2736.8 L944.3,2736.2 L946.2,2735.6 L948.1,2735.0 L950.0,2734.4 L951.9,2733.8 L953.8,2733.2 L955.7,2732.6 L957.7,2732.0 L959.6,2731.4 L961.5,2730.8 L963.4,2730.3 L965.3,2729.7 L967.2,2729.1 L969.2,2728.6 L971.1,2728.0 L973.0,2727.5 L974.9,2727.0 L976.9,2726.4 L978.8,2725.9 L980.7,2725.4 L982.7,2724.9 L984.6,2724.4 L986.6,2723.9 L988.5,2723.4 L990.4,2722.9 L992.4,2722.4 L994.3,2721.9 L996.3,2721.5 L998.2,2721.0 L1000.2,2720.6 L1002.1,2720.1 L1004.1,2719.7 L1006.0,2719.3 L1008.0,2718.9 L1010.0,2718.5 L1011.9,2718.1 L1013.9,2717.7 L1015.9,2717.3 L1017.8,2717.0 L1019.8,2716.6 L1021.8,2716.3 L1023.8,2716.0 L1025.7,2715.6 L1027.7,2715.3 L1029.7,2715.0 L1031.7,2714.8 L1033.6,2714.5 L1035.6,2714.2 L1037.6,2714.0 L1039.6,2713.7 L1041.6,2713.5 L1043.6,2713.3 L1045.6,2713.1 L1047.6,2712.9 L1049.6,2712.7 L1051.6,2712.6 L1053.6,2712.4 L1055.6,2712.3 L1057.6,2712.2 L1059.6,2712.1 L1061.6,2712.0 L1063.6,2711.9 L1065.6,2711.9 L1067.6,2711.8 L1069.6,2711.8 L1071.6,2711.8 L1073.6,2711.8 L1075.6,2711.8 L1077.6,2711.9 L1079.6,2711.9 L1081.6,2712.0 L1083.6,2712.1 L1085.6,2712.2 L1087.6,2712.3 L1089.6,2712.5 L1091.6,2712.6 L1093.6,2712.8 L1095.5,2713.0 L1097.5,2713.2 L1099.5,2713.4 L1101.5,2713.7 L1103.5,2714.0 L1105.5,2714.3 L1107.5,2714.6 L1109.4,2714.9 L1111.4,2715.3 L1113.4,2715.6 L1115.3,2716.0 L1117.3,2716.5 L1119.2,2716.9 L1121.2,2717.3 L1123.1,2717.8 L1125.1,2718.3 L1127.0,2718.9 L1128.9,2719.4 L1130.8,2720.0 L1132.8,2720.6 L1134.7,2721.2 L1136.6,2721.8 L1138.5,2722.5 L1140.3,2723.1 L1142.2,2723.8 L1144.1,2724.5 L1145.9,2725.3 L1147.8,2726.0 L1149.7,2726.8 L1151.5,2727.6 L1153.3,2728.4 L1155.2,2729.2 L1157.0,2730.0 L1158.8,2730.9 L1160.6,2731.7 L1162.4,2732.6 L1164.2,2733.5 L1166.0,2734.4 L1167.8,2735.3 L1169.5,2736.2 L1171.3,2737.2 L1173.1,2738.1 L1174.8,2739.1 L1176.6,2740.0 L1178.3,2741.0 L1180.1,2742.0 L1181.8,2743.0 L1183.6,2744.0 L1185.3,2745.0 L1187.0,2746.0 L1188.8,2747.0 L1190.5,2748.0 L1192.2,2749.0 L1193.9,2750.1 L1195.6,2751.1 L1197.3,2752.2 L1199.0,2753.2 L1200.7,2754.3 L1202.4,2755.3 L1204.1,2756.4 L1205.8,2757.4 L1207.5,2758.5 L1209.2,2759.6 L1210.9,2760.6 L1212.6,2761.7 L1214.3,2762.8 L1216.0,2763.8 L1217.7,2764.9 L1219.4,2766.0 L1221.1,2767.0 L1222.8,2768.1 L1224.5,2769.2 L1226.2,2770.2 L1227.9,2771.3 L1229.6,2772.3 L1231.3,2773.4 L1233.0,2774.4 L1234.7,2775.5 L1236.4,2776.5 L1238.1,2777.6 L1239.8,2778.6 L1241.5,2779.7 L1243.2,2780.7 L1244.9,2781.8 L1246.6,2782.8 L1248.3,2783.9 L1250.0,2785.0 L1251.7,2786.0 L1253.4,2787.1 L1255.1,2788.1 L1256.8,2789.2 L1258.5,2790.2 L1260.2,2791.3 L1261.9,2792.4 L1263.6,2793.4 L1265.3,2794.5 L1267.0,2795.6 L1268.6,2796.7 L1270.3,2797.8 L1272.0,2798.9 L1273.7,2800.0 L1275.3,2801.1 L1277.0,2802.2 L1278.7,2803.3 L1280.3,2804.4 L1282.0,2805.6 L1283.6,2806.7 L1285.3,2807.8 L1286.9,2809.0 L1288.5,2810.2 L1290.2,2811.3 L1291.8,2812.5 L1293.4,2813.7 L1295.0,2814.9 L1296.6,2816.1 L1298.2,2817.3 L1299.8,2818.5 L1301.4,2819.8 L1302.9,2821.0 L1304.5,2822.3 L1306.0,2823.5 L1307.6,2824.8 L1309.1,2826.1 L1310.6,2827.4 L1312.1,2828.7 L1313.6,2830.0 L1315.1,2831.4 L1316.6,2832.7 L1318.1,2834.1 L1319.6,2835.4 L1321.0,2836.8 L1322.4,2838.2 L1323.9,2839.6 L1325.3,2841.0 L1326.7,2842.5 L1328.0,2843.9 L1329.4,2845.4 L1330.8,2846.9 L1332.1,2848.3 L1333.4,2849.8 L1334.8,2851.3 L1336.1,2852.8 L1337.4,2854.4 L1338.7,2855.9 L1340.0,2857.4 L1341.2,2859.0 L1342.5,2860.5 L1343.8,2862.1 L1345.0,2863.6 L1346.3,2865.2 L1347.5,2866.8 L1348.7,2868.4 L1349.9,2870.0 L1351.2,2871.5 L1352.4,2873.1 L1353.6,2874.7 L1354.8,2876.3 L1356.0,2877.9 L1357.2,2879.5 L1358.4,2881.1 L1359.6,2882.7 L1360.8,2884.3 L1362.0,2885.9 L1363.2,2887.5 L1364.4,2889.1 L1365.6,2890.8 L1366.8,2892.4 L1368.0,2894.0 L1369.2,2895.6 L1370.4,2897.2 L1371.6,2898.8 L1372.8,2900.4 L1374.0,2902.0 L1375.2,2903.6 L1376.4,2905.1 L1377.7,2906.7 L1378.9,2908.3 L1380.1,2909.9 L1381.4,2911.4 L1382.6,2913.0 L1383.9,2914.6 L1385.1,2916.1 L1386.4,2917.7 L1387.7,2919.2 L1389.0,2920.7 L1390.3,2922.3 L1391.6,2923.8 L1392.9,2925.3 L1394.2,2926.8 L1395.5,2928.3 L1396.9,2929.8 L1398.2,2931.3 L1399.6,2932.7 L1400.9,2934.2 L1402.3,2935.7 L1403.7,2937.1 L1405.0,2938.6 L1406.4,2940.1 L1407.8,2941.5 L1409.2,2942.9 L1410.6,2944.4 L1412.0,2945.8 L1413.4,2947.3 L1414.8,2948.7 L1416.2,2950.1 L1417.6,2951.5 L1419.0,2952.9 L1420.4,2954.4 L1421.8,2955.8 L1423.2,2957.2 L1424.7,2958.6 L1426.1,2960.0 L1427.5,2961.4 L1428.9,2962.8 L1430.3,2964.2 L1431.8,2965.7 L1433.2,2967.1 L1434.6,2968.5 L1436.0,2969.9 L1437.5,2971.3 L1438.9,2972.7 L1440.3,2974.1 L1441.7,2975.5 L1443.1,2977.0 L1444.5,2978.4 L1445.9,2979.8 L1447.3,2981.2 L1448.8,2982.6 L1450.2,2984.1 L1451.5,2985.5 L1452.9,2987.0 L1454.3,2988.4 L1455.7,2989.8 L1457.1,2991.3 L1458.5,2992.7 L1459.8,2994.2 L1461.2,2995.7 L1462.6,2997.1 L1463.9,2998.6 L1465.3,3000.1 L1466.7,3001.5 L1468.0,3003.0 L1469.4,3004.5 L1470.7,3006.0 L1472.1,3007.4 L1473.4,3008.9 L1474.8,3010.4 L1476.1,3011.9 L1477.4,3013.4 L1478.8,3014.9 L1480.1,3016.3 L1481.5,3017.8 L1482.8,3019.3 L1484.1,3020.8 L1485.5,3022.3 L1486.8,3023.8 L1488.1,3025.3 L1489.5,3026.8 L1490.8,3028.3 L1492.1,3029.8 L1493.5,3031.3 L1494.8,3032.8 L1496.1,3034.3 L1497.5,3035.7 L1498.8,3037.2 L1500.1,3038.7 L1501.5,3040.2 L1502.8,3041.7 L1504.2,3043.2 L1505.5,3044.7 L1506.8,3046.2 L1508.2,3047.6 L1509.5,3049.1 L1510.9,3050.6 L1512.2,3052.1 L1513.6,3053.6 L1514.9,3055.0 L1516.3,3056.5 L1517.7,3058.0 L1519.0,3059.4 L1520.4,3060.9 L1521.8,3062.3 L1523.1,3063.8 L1524.5,3065.3 L1525.9,3066.7 L1527.3,3068.1 L1528.7,3069.6 L1530.1,3071.0 L1531.5,3072.5 L1532.9,3073.9 L1534.3,3075.3 L1535.7,3076.7 L1537.1,3078.1 L1538.5,3079.5 L1540.0,3080.9 L1541.4,3082.3 L1542.8,3083.7 L1544.3,3085.1 L1545.7,3086.5 L1547.2,3087.9 L1548.7,3089.3 L1550.1,3090.6 L1551.6,3092.0 L1553.1,3093.3 L1554.6,3094.7 L1556.0,3096.0 L1557.5,3097.3 L1559.0,3098.7 L1560.5,3100.0 L1562.1,3101.3 L1563.6,3102.6 L1565.1,3103.9 L1566.6,3105.2 L1568.1,3106.5 L1569.7,3107.8 L1571.2,3109.0 L1572.8,3110.3 L1574.3,3111.6 L1575.9,3112.8 L1577.5,3114.1 L1579.0,3115.3 L1580.6,3116.6 L1582.2,3117.8 L1583.8,3119.0 L1585.4,3120.2 L1587.0,3121.4 L1588.6,3122.6 L1590.2,3123.8 L1591.8,3125.0 L1593.4,3126.2 L1595.0,3127.4 L1596.6,3128.5 L1598.3,3129.7 L1599.9,3130.9 L1601.5,3132.0 L1603.2,3133.2 L1604.8,3134.3 L1606.5,3135.4 L1608.1,3136.6 L1609.8,3137.7 L1611.4,3138.8 L1613.1,3140.0 L1614.7,3141.1 L1616.4,3142.2 L1618.1,3143.3 L1619.7,3144.4 L1621.4,3145.6 L1623.0,3146.7 L1624.7,3147.8 L1626.4,3148.9 L1628.1,3150.0 L1629.7,3151.1 L1631.4,3152.2 L1633.1,3153.3 L1634.7,3154.4 L1636.4,3155.5 L1638.1,3156.6 L1639.8,3157.7 L1641.4,3158.8 L1643.1,3159.9 L1644.8,3161.0 L1646.4,3162.1 L1648.1,3163.2 L1649.8,3164.3 L1651.4,3165.4 L1653.1,3166.5 L1654.8,3167.6 L1656.4,3168.8 L1658.1,3169.9 L1659.8,3171.0 L1661.4,3172.1 L1663.1,3173.2 L1664.7,3174.4 L1666.4,3175.5 L1668.0,3176.6 L1669.7,3177.8 L1671.3,3178.9 L1673.0,3180.1 L1674.6,3181.2 L1676.2,3182.3 L1677.9,3183.5 L1679.5,3184.6 L1681.2,3185.8 L1682.8,3186.9 L1684.5,3188.1 L1686.1,3189.2 L1687.7,3190.4 L1689.4,3191.5 L1691.0,3192.7 L1692.7,3193.8 L1694.3,3194.9 L1696.0,3196.1 L1697.6,3197.2 L1699.3,3198.3 L1700.9,3199.4 L1702.6,3200.5 L1704.3,3201.6 L1706.0,3202.7 L1707.6,3203.8 L1709.3,3204.9 L1711.0,3206.0 L1712.7,3207.1 L1714.4,3208.2 L1716.1,3209.2 L1717.8,3210.3 L1719.5,3211.3 L1721.2,3212.4 L1722.9,3213.4 L1724.6,3214.4 L1726.3,3215.4 L1728.1,3216.4 L1729.8,3217.4 L1731.6,3218.4 L1733.3,3219.4 L1735.0,3220.4 L1736.8,3221.4 L1738.6,3222.3 L1740.3,3223.3 L1742.1,3224.2 L1743.9,3225.1 L1745.6,3226.0 L1747.4,3226.9 L1749.2,3227.8 L1751.0,3228.7 L1752.8,3229.6 L1754.6,3230.5 L1756.4,3231.3 L1758.2,3232.2 L1760.1,3233.0 L1761.9,3233.8 L1763.7,3234.6 L1765.6,3235.4 L1767.4,3236.2 L1769.2,3237.0 L1771.1,3237.7 L1773.0,3238.5 L1774.8,3239.2 L1776.7,3240.0 L1778.6,3240.7 L1780.4,3241.4 L1782.3,3242.0 L1784.2,3242.7 L1786.1,3243.4 L1788.0,3244.0 L1789.9,3244.6 L1791.8,3245.3 L1793.7,3245.9 L1795.6,3246.4 L1797.5,3247.0 L1799.5,3247.6 L1801.4,3248.1 L1803.3,3248.6 L1805.3,3249.1 L1807.2,3249.6 L1809.1,3250.1 L1811.1,3250.6 L1813.0,3251.0 L1815.0,3251.5 L1817.0,3251.9 L1818.9,3252.3 L1820.9,3252.7 L1822.8,3253.0 L1824.8,3253.4 L1826.8,3253.7 L1828.8,3254.0 L1830.7,3254.3 L1832.7,3254.6 L1834.7,3254.9 L1836.7,3255.1 L1838.7,3255.4 L1840.7,3255.6 L1842.7,3255.8 L1844.7,3256.0 L1846.7,3256.2"/>
</g>
<line x1="286.20" y1="3361.20" x2="1849.00" y2="3361.20" stroke="#000" stroke-width="6.4" />
<line x1="286.20" y1="1875.90" x2="1852.20" y2="1875.90" stroke="#000" stroke-width="6.4" />
<line x1="337.10" y1="1872.70" x2="337.10" y2="3417.70" stroke="#000" stroke-width="6.4" />
<line x1="1849.00" y1="1872.70" x2="1849.00" y2="3417.70" stroke="#000" stroke-width="6.4" />
<line x1="337.10" y1="3390.90" x2="1849.00" y2="3390.90" stroke="#000" stroke-width="6.4" />
<line x1="286.20" y1="3064.14" x2="337.10" y2="3064.14" stroke="#000" stroke-width="6.4" />
<line x1="286.20" y1="2767.08" x2="337.10" y2="2767.08" stroke="#000" stroke-width="6.4" />
<line x1="286.20" y1="2470.02" x2="337.10" y2="2470.02" stroke="#000" stroke-width="6.4" />
<line x1="286.20" y1="2172.96" x2="337.10" y2="2172.96" stroke="#000" stroke-width="6.4" />
<line x1="437.90" y1="3390.90" x2="437.90" y2="3441.00" stroke="#000" stroke-width="6.4" />
<line x1="538.69" y1="3390.90" x2="538.69" y2="3417.70" stroke="#000" stroke-width="6.4" />
<line x1="639.49" y1="3390.90" x2="639.49" y2="3417.70" stroke="#000" stroke-width="6.4" />
<line x1="740.28" y1="3390.90" x2="740.28" y2="3417.70" stroke="#000" stroke-width="6.4" />
<line x1="841.08" y1="3390.90" x2="841.08" y2="3441.00" stroke="#000" stroke-width="6.4" />
<line x1="941.88" y1="3390.90" x2="941.88" y2="3417.70" stroke="#000" stroke-width="6.4" />
<line x1="1042.67" y1="3390.90" x2="1042.67" y2="3417.70" stroke="#000" stroke-width="6.4" />
<line x1="1143.46" y1="3390.90" x2="1143.46" y2="3417.70" stroke="#000" stroke-width="6.4" />
<line x1="1244.26" y1="3390.90" x2="1244.26" y2="3441.00" stroke="#000" stroke-width="6.4" />
<line x1="1345.05" y1="3390.90" x2="1345.05" y2="3417.70" stroke="#000" stroke-width="6.4" />
<line x1="1445.85" y1="3390.90" x2="1445.85" y2="3417.70" stroke="#000" stroke-width="6.4" />
<line x1="1546.64" y1="3390.90" x2="1546.64" y2="3417.70" stroke="#000" stroke-width="6.4" />
<line x1="1647.44" y1="3390.90" x2="1647.44" y2="3441.00" stroke="#000" stroke-width="6.4" />
<line x1="1748.24" y1="3390.90" x2="1748.24" y2="3417.70" stroke="#000" stroke-width="6.4" />
<g font-family="'Liberation Sans', Arial, sans-serif">
<text transform="translate(263.50,101.30) scale(1.0,0.92)" font-size="80" text-anchor="end" fill="#000">1.4</text>
<text transform="translate(263.50,310.03) scale(1.0,1.035)" font-size="80" text-anchor="end" fill="#000">1.2</text>
<text transform="translate(263.50,519.01) scale(1.0,1.035)" font-size="80" text-anchor="end" fill="#000">1.0</text>
<text transform="translate(263.50,727.99) scale(1.0,1.035)" font-size="80" text-anchor="end" fill="#000">0.8</text>
<text transform="translate(263.50,936.97) scale(1.0,1.035)" font-size="80" text-anchor="end" fill="#000">0.6</text>
<text transform="translate(263.50,1145.95) scale(1.0,1.035)" font-size="80" text-anchor="end" fill="#000">0.4</text>
<text transform="translate(263.50,1354.93) scale(1.0,1.035)" font-size="80" text-anchor="end" fill="#000">0.2</text>
<text transform="translate(263.50,1563.91) scale(1.0,1.035)" font-size="80" text-anchor="end" fill="#000">0.0</text>
<text transform="translate(453.40,1738.00) scale(1.0,1.035)" font-size="80" text-anchor="middle" fill="#000">0</text>
<text transform="translate(918.60,1738.00) scale(1.0,1.035)" font-size="80" text-anchor="middle" fill="#000">400</text>
<text transform="translate(1383.80,1738.00) scale(1.0,1.035)" font-size="80" text-anchor="middle" fill="#000">800</text>
<text transform="translate(1849.00,1738.00) scale(1.0,1.035)" font-size="80" text-anchor="middle" fill="#000">1200</text>
<text transform="translate(945.60,1816.50) scale(1.0,1.027)" font-size="81" text-anchor="start" fill="#000">Time (s)</text>
<text transform="translate(263.50,3388.20) scale(1.0,1.035)" font-size="80" text-anchor="end" fill="#000">0</text>
<text transform="translate(263.50,3091.14) scale(1.0,1.035)" font-size="80" text-anchor="end" fill="#000">10</text>
<text transform="translate(263.50,2794.08) scale(1.0,1.035)" font-size="80" text-anchor="end" fill="#000">20</text>
<text transform="translate(263.50,2497.02) scale(1.0,1.035)" font-size="80" text-anchor="end" fill="#000">30</text>
<text transform="translate(263.50,2199.96) scale(1.0,1.035)" font-size="80" text-anchor="end" fill="#000">40</text>
<text transform="translate(263.50,1902.90) scale(1.0,1.035)" font-size="80" text-anchor="end" fill="#000">50</text>
<text transform="translate(437.90,3539.50) scale(1.0,1.035)" font-size="80" text-anchor="middle" fill="#000">0</text>
<text transform="translate(841.08,3539.50) scale(1.0,1.035)" font-size="80" text-anchor="middle" fill="#000">20</text>
<text transform="translate(1244.26,3539.50) scale(1.0,1.035)" font-size="80" text-anchor="middle" fill="#000">40</text>
<text transform="translate(1647.44,3539.50) scale(1.0,1.035)" font-size="80" text-anchor="middle" fill="#000">60</text>
<text transform="translate(945.60,3618.00) scale(1.0,1.027)" font-size="81" text-anchor="start" fill="#000">Time (s)</text>
<text transform="translate(376.80,199.00) scale(1.0,1.035)" font-size="121" text-anchor="start" fill="#231815">A</text>
<text transform="translate(379.00,2002.60) scale(1.0,1.035)" font-size="121" text-anchor="start" fill="#231815">B</text>
<text transform="translate(1522.00,172.50) scale(1.0,1.0)" font-size="66.5" text-anchor="start" fill="#231815">solvent</text>
<text transform="translate(1557.70,247.40) scale(1.0,1.0)" font-size="66.5" text-anchor="start" fill="#231815">flush</text>
<text transform="translate(932.20,319.50) scale(1.0,1.02)" font-size="95" text-anchor="start" fill="#231815">1</text>
<text transform="translate(1020.05,402.30) scale(1.0,0.985)" font-size="95" text-anchor="start" fill="#231815">2</text>
<text transform="translate(1109.20,490.65) scale(1.0,0.99)" font-size="95" text-anchor="start" fill="#231815">3</text>
<text transform="translate(1355.03,951.90) scale(1.0,1.03)" font-size="95" text-anchor="start" fill="#231815">4</text>
<text transform="translate(751.40,2105.55) scale(1.0,1.0)" font-size="95" text-anchor="start" fill="#231815">3</text>
<text transform="translate(921.90,2397.70) scale(1.0,1.03)" font-size="95" text-anchor="start" fill="#231815">1</text>
<text transform="translate(1210.45,2717.40) scale(1.0,0.985)" font-size="95" text-anchor="start" fill="#231815">2</text>
<text transform="translate(123,1312.6) rotate(-90)" font-size="80.6" fill="#000"><tspan x="0" y="0">Adsorbed amount (mg m</tspan><tspan x="886.0" y="-53" font-size="56">&#8211;2</tspan><tspan x="952.6" y="0">)</tspan></text>
<text transform="translate(135.5,3225.4) rotate(-90)" font-size="80" fill="#000"><tspan x="0" y="0">Adsorption rate (x10</tspan><tspan x="718.9" y="-53" font-size="56">&#8211;3</tspan><tspan x="790.7" y="0">mg</tspan><tspan x="927.4" y="0">m</tspan><tspan x="995.2" y="-53" font-size="56">&#8211;2</tspan><tspan x="1067.7" y="0">s</tspan><tspan x="1107.3" y="-53" font-size="56">&#8211;1</tspan><tspan x="1166.3" y="0">)</tspan></text>
</g>
</svg>
</body></html>
